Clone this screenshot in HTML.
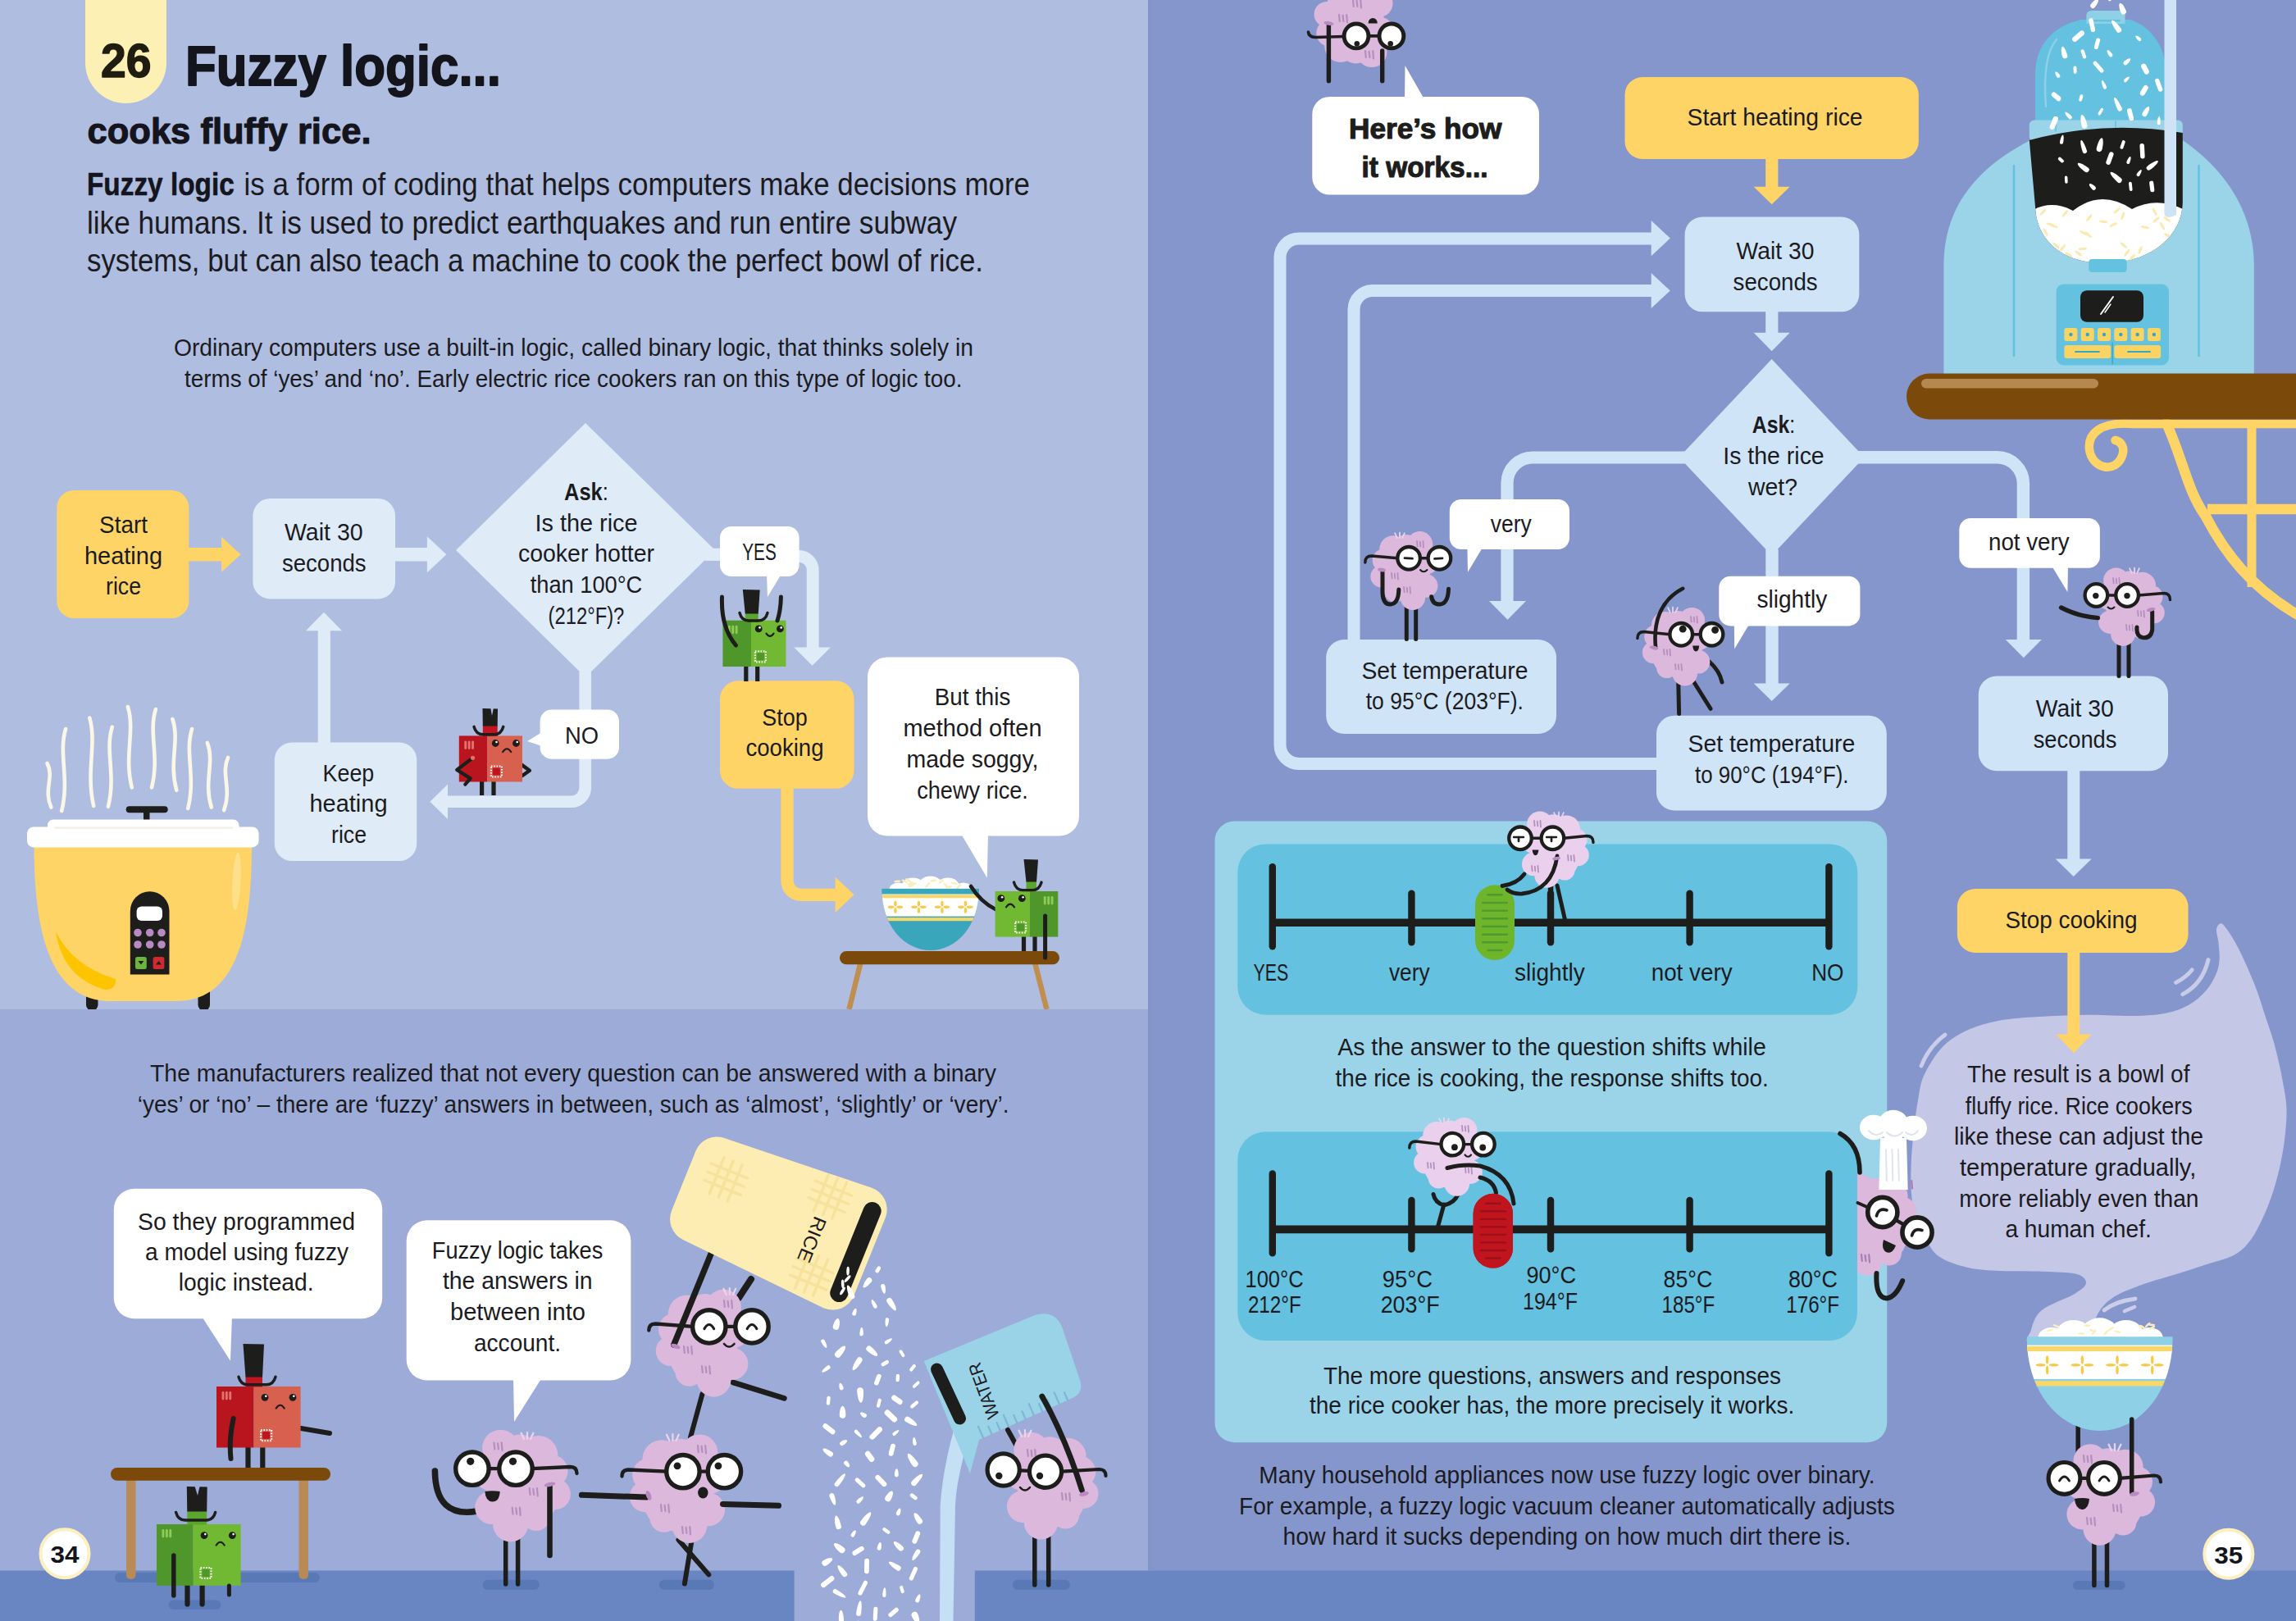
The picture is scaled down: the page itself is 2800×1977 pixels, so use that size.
<!DOCTYPE html><html><head><meta charset="utf-8"><title>Fuzzy logic cooks fluffy rice</title><style>html,body{margin:0;padding:0;background:#8496cd}svg{display:block}text{font-family:"Liberation Sans",sans-serif}</style></head><body><svg width="2800" height="1977" viewBox="0 0 2800 1977">
<rect x="0.0" y="0.0" width="1400.0" height="1232.0" rx="0" fill="#afbde0"/>
<rect x="0.0" y="1231.0" width="1400.0" height="746.0" rx="0" fill="#9cabd8"/>
<rect x="1400.0" y="0.0" width="1400.0" height="1977.0" rx="0" fill="#8596cc"/>
<rect x="0.0" y="1915.5" width="968.6" height="62.0" rx="0" fill="#6a86c2"/>
<rect x="1188.8" y="1915.5" width="1611.2" height="62.0" rx="0" fill="#6a86c2"/>
<path d="M104,0 H203 V76.5 A49.5,49.5 0 0 1 104,76.5 Z" fill="#fdf0b5"/>
<text x="123.0" y="94.0" font-size="57" font-weight="bold" textLength="61.5" lengthAdjust="spacingAndGlyphs" fill="#1f1c10" stroke="#1f1c10" stroke-width="1.4" stroke-linejoin="round">26</text>
<text x="226.0" y="104.0" font-size="68" font-weight="bold" textLength="385.0" lengthAdjust="spacingAndGlyphs" fill="#14141c" stroke="#14141c" stroke-width="1.8" stroke-linejoin="round">Fuzzy logic...</text>
<text x="106.5" y="175.0" font-size="45" font-weight="bold" textLength="346.0" lengthAdjust="spacingAndGlyphs" fill="#14141c" stroke="#14141c" stroke-width="1.1" stroke-linejoin="round">cooks fluffy rice.</text>
<text x="106.0" y="238.0" font-size="39" font-weight="bold" textLength="179.7" lengthAdjust="spacingAndGlyphs" fill="#14141c" stroke="#14141c" stroke-width="0.6" stroke-linejoin="round">Fuzzy logic</text>
<text x="297.6" y="238.0" font-size="39" textLength="958.4" lengthAdjust="spacingAndGlyphs" fill="#1b1b1f">is a form of coding that helps computers make decisions more</text>
<text x="106.0" y="285.0" font-size="39" textLength="1061.0" lengthAdjust="spacingAndGlyphs" fill="#1b1b1f">like humans. It is used to predict earthquakes and run entire subway</text>
<text x="106.0" y="331.0" font-size="39" textLength="1093.0" lengthAdjust="spacingAndGlyphs" fill="#1b1b1f">systems, but can also teach a machine to cook the perfect bowl of rice.</text>
<text x="212.0" y="434.0" font-size="29" textLength="975.0" lengthAdjust="spacingAndGlyphs" fill="#1b1b1f">Ordinary computers use a built-in logic, called binary logic, that thinks solely in</text>
<text x="225.0" y="471.6" font-size="29" textLength="948.5" lengthAdjust="spacingAndGlyphs" fill="#1b1b1f">terms of ‘yes’ and ‘no’. Early electric rice cookers ran on this type of logic too.</text>
<path d="M225,676.3 H272" fill="none" stroke="#ffd466" stroke-width="16.5" stroke-linecap="butt" stroke-linejoin="round"/>
<polygon points="270.1,654.8 293.6,676.3 270.1,697.8" fill="#ffd466"/>
<path d="M478,676.3 H523" fill="none" stroke="#dfecf8" stroke-width="16.5" stroke-linecap="butt" stroke-linejoin="round"/>
<polygon points="520.9,654.3 544.4,676.3 520.9,698.3" fill="#dfecf8"/>
<path d="M395.3,910 V768" fill="none" stroke="#dfecf8" stroke-width="15.2" stroke-linecap="butt" stroke-linejoin="round"/>
<polygon points="373.0,769.3 395.0,746.8 417.0,769.3" fill="#dfecf8"/>
<path d="M860,676.3 H885" fill="none" stroke="#dfecf8" stroke-width="15.2" stroke-linecap="butt" stroke-linejoin="round"/>
<path d="M960,678.4 H974.2 A17,17 0 0 1 991.2,695.4 V790.4" fill="none" stroke="#dfecf8" stroke-width="14.8" stroke-linecap="butt" stroke-linejoin="round"/>
<polygon points="968.3,789.4 990.6,811.8 1012.9,789.4" fill="#dfecf8"/>
<path d="M713.7,815 V960.8 A17,17 0 0 1 696.7,977.8 H545" fill="none" stroke="#dfecf8" stroke-width="14.6" stroke-linecap="butt" stroke-linejoin="round"/>
<polygon points="546.0,956.6 524.4,977.8 546.0,999.0" fill="#dfecf8"/>
<path d="M960,955 V1074.3 A17,17 0 0 0 977,1091.3 H1020" fill="none" stroke="#ffd466" stroke-width="15.3" stroke-linecap="butt" stroke-linejoin="round"/>
<polygon points="1018.6,1069.6 1041.6,1091.3 1018.6,1113.0" fill="#ffd466"/>
<polygon points="714.0,516.0 872.0,671.0 714.0,826.0 556.0,671.0" fill="#dfecf8"/>
<rect x="69.3" y="598.0" width="161.0" height="156.0" rx="21" fill="#ffd466"/>
<rect x="308.4" y="608.0" width="173.6" height="122.4" rx="21" fill="#dfecf8"/>
<rect x="334.8" y="905.6" width="173.4" height="144.4" rx="21" fill="#dfecf8"/>
<rect x="878.0" y="830.3" width="163.5" height="131.5" rx="22" fill="#ffd466"/>
<rect x="878.0" y="642.0" width="96.6" height="61.0" rx="14" fill="#fff"/>
<polygon points="935.0,700.0 953.0,700.0 936.0,728.0" fill="#fff"/>
<rect x="658.6" y="865.6" width="96.4" height="60.1" rx="14" fill="#fff"/>
<polygon points="661.0,893.0 661.0,910.0 643.0,904.0" fill="#fff"/>
<rect x="1058.0" y="801.4" width="258.0" height="218.2" rx="24" fill="#fff"/>
<polygon points="1172.0,1017.0 1205.0,1017.0 1203.8,1070.7" fill="#fff"/>
<text x="121.0" y="650.0" font-size="29" textLength="59.0" lengthAdjust="spacingAndGlyphs" fill="#1b1b1f">Start</text>
<text x="103.0" y="687.6" font-size="29" textLength="95.0" lengthAdjust="spacingAndGlyphs" fill="#1b1b1f">heating</text>
<text x="129.0" y="724.6" font-size="29" textLength="43.0" lengthAdjust="spacingAndGlyphs" fill="#1b1b1f">rice</text>
<text x="347.0" y="659.0" font-size="29" textLength="95.6" lengthAdjust="spacingAndGlyphs" fill="#1b1b1f">Wait 30</text>
<text x="343.9" y="696.5" font-size="29" textLength="102.7" lengthAdjust="spacingAndGlyphs" fill="#1b1b1f">seconds</text>
<text x="688.1" y="609.5" font-size="29" textLength="53.7" lengthAdjust="spacingAndGlyphs" fill="#1b1b1f"><tspan font-weight="bold">Ask</tspan>:</text>
<text x="652.5" y="647.5" font-size="29" textLength="125.0" lengthAdjust="spacingAndGlyphs" fill="#1b1b1f">Is the rice</text>
<text x="632.0" y="685.0" font-size="29" textLength="166.0" lengthAdjust="spacingAndGlyphs" fill="#1b1b1f">cooker hotter</text>
<text x="646.7" y="722.7" font-size="29" textLength="136.6" lengthAdjust="spacingAndGlyphs" fill="#1b1b1f">than 100°C</text>
<text x="668.6" y="760.7" font-size="29" textLength="92.7" lengthAdjust="spacingAndGlyphs" fill="#1b1b1f">(212°F)?</text>
<text x="905.2" y="683.0" font-size="29" textLength="41.6" lengthAdjust="spacingAndGlyphs" fill="#1b1b1f">YES</text>
<text x="689.0" y="906.5" font-size="29" textLength="41.0" lengthAdjust="spacingAndGlyphs" fill="#1b1b1f">NO</text>
<text x="393.6" y="953.2" font-size="29" textLength="62.7" lengthAdjust="spacingAndGlyphs" fill="#1b1b1f">Keep</text>
<text x="377.5" y="990.3" font-size="29" textLength="95.0" lengthAdjust="spacingAndGlyphs" fill="#1b1b1f">heating</text>
<text x="404.0" y="1027.9" font-size="29" textLength="43.0" lengthAdjust="spacingAndGlyphs" fill="#1b1b1f">rice</text>
<text x="929.2" y="885.0" font-size="29" textLength="55.5" lengthAdjust="spacingAndGlyphs" fill="#1b1b1f">Stop</text>
<text x="909.5" y="922.0" font-size="29" textLength="95.0" lengthAdjust="spacingAndGlyphs" fill="#1b1b1f">cooking</text>
<text x="1139.8" y="860.3" font-size="29" textLength="92.5" lengthAdjust="spacingAndGlyphs" fill="#1b1b1f">But this</text>
<text x="1101.5" y="898.0" font-size="29" textLength="169.0" lengthAdjust="spacingAndGlyphs" fill="#1b1b1f">method often</text>
<text x="1105.5" y="936.0" font-size="29" textLength="161.0" lengthAdjust="spacingAndGlyphs" fill="#1b1b1f">made soggy,</text>
<text x="1118.2" y="973.5" font-size="29" textLength="135.7" lengthAdjust="spacingAndGlyphs" fill="#1b1b1f">chewy rice.</text>
<path d="M57.5,931.0 C66.6,947.1 52.6,963.2 62.4,984.6" fill="none" stroke="#fbf7e6" stroke-width="4.6" stroke-linecap="round" stroke-linejoin="round"/>
<path d="M80.1,889.0 C71.0,919.0 85.0,949.0 75.2,989.0" fill="none" stroke="#fbf7e6" stroke-width="4.6" stroke-linecap="round" stroke-linejoin="round"/>
<path d="M109.3,875.5 C118.4,907.8 104.4,940.0 114.2,983.0" fill="none" stroke="#fbf7e6" stroke-width="4.6" stroke-linecap="round" stroke-linejoin="round"/>
<path d="M136.8,886.6 C127.7,915.8 141.7,944.9 131.9,983.8" fill="none" stroke="#fbf7e6" stroke-width="4.6" stroke-linecap="round" stroke-linejoin="round"/>
<path d="M155.9,862.0 C165.0,891.5 151.0,921.1 160.8,960.5" fill="none" stroke="#fbf7e6" stroke-width="4.6" stroke-linecap="round" stroke-linejoin="round"/>
<path d="M189.9,865.0 C180.8,893.6 194.8,922.3 185.0,960.5" fill="none" stroke="#fbf7e6" stroke-width="4.6" stroke-linecap="round" stroke-linejoin="round"/>
<path d="M210.4,877.0 C219.5,903.0 205.5,929.1 215.3,963.8" fill="none" stroke="#fbf7e6" stroke-width="4.6" stroke-linecap="round" stroke-linejoin="round"/>
<path d="M234.1,889.0 C225.0,918.1 239.0,947.2 229.2,986.0" fill="none" stroke="#fbf7e6" stroke-width="4.6" stroke-linecap="round" stroke-linejoin="round"/>
<path d="M252.9,906.0 C262.0,929.6 248.0,953.2 257.8,984.6" fill="none" stroke="#fbf7e6" stroke-width="4.6" stroke-linecap="round" stroke-linejoin="round"/>
<path d="M278.1,924.0 C269.0,943.2 283.0,962.4 273.2,988.0" fill="none" stroke="#fbf7e6" stroke-width="4.6" stroke-linecap="round" stroke-linejoin="round"/>
<rect x="153.7" y="983.3" width="51.0" height="8.0" rx="4" fill="#1d1d1b"/>
<rect x="175.0" y="988.0" width="7.5" height="13.0" rx="0" fill="#1d1d1b"/>
<rect x="105.0" y="1190.0" width="14.5" height="42.5" rx="7" fill="#1d1d1b"/>
<rect x="241.5" y="1190.0" width="14.5" height="42.5" rx="7" fill="#1d1d1b"/>
<path d="M41.5,1030 H307 C307,1130 292,1221 215,1221 H135 C58,1221 41.5,1130 41.5,1030 Z" fill="#ffd466"/>
<rect x="58.0" y="999.4" width="233.5" height="16.0" rx="7" fill="#fff"/>
<rect x="33.0" y="1008.4" width="282.6" height="25.0" rx="8" fill="#fff"/>
<rect x="66.0" y="1008.6" width="218.0" height="2.2" rx="1" fill="#f3efe2"/>
<path d="M68,1136 Q88,1178 141,1194 Q142,1207 128,1207 Q76,1192 68,1136 Z" fill="#fdc400"/>
<ellipse cx="288.5" cy="1075.0" rx="5.0" ry="35.0" fill="#ffe08a" transform="rotate(3 288.5 1075.0)"/>
<path d="M158.8,1188.5 V1111 A23.85,23.85 0 0 1 206.5,1111 V1188.5 Z" fill="#1d1d1b"/>
<rect x="166.6" y="1105.6" width="31.4" height="17.4" rx="6" fill="#fff"/>
<circle cx="168.0" cy="1137.5" r="4.8" fill="#b98ac2"/>
<circle cx="182.7" cy="1137.5" r="4.8" fill="#b98ac2"/>
<circle cx="197.0" cy="1137.5" r="4.8" fill="#b98ac2"/>
<circle cx="168.0" cy="1152.0" r="4.8" fill="#b98ac2"/>
<circle cx="182.7" cy="1152.0" r="4.8" fill="#b98ac2"/>
<circle cx="197.0" cy="1152.0" r="4.8" fill="#b98ac2"/>
<rect x="165.0" y="1167.0" width="13.8" height="15.0" rx="2.5" fill="#6db33f"/>
<rect x="186.6" y="1167.0" width="13.8" height="15.0" rx="2.5" fill="#cf2a30"/>
<polygon points="168.5,1172.0 175.3,1172.0 171.9,1176.5" fill="#1d1d1b"/>
<polygon points="190.0,1176.5 197.0,1176.5 193.5,1172.0" fill="#1d1d1b"/>
<path d="M636,932.6 L645.9,939.8 L637,946" fill="none" stroke="#1d1d1b" stroke-width="4.4" stroke-linecap="round" stroke-linejoin="round"/>
<line x1="587.6" y1="953.0" x2="587.6" y2="970.0" stroke="#1d1d1b" stroke-width="5.2" stroke-linecap="butt"/>
<line x1="602.0" y1="953.0" x2="602.0" y2="970.0" stroke="#1d1d1b" stroke-width="5.2" stroke-linecap="butt"/>
<rect x="559.8" y="897.4" width="34.6" height="56.1" rx="0" fill="#b8151f"/>
<rect x="594.4" y="897.4" width="42.6" height="56.1" rx="0" fill="#d8604f"/>
<rect x="566.3" y="903.4" width="2.9" height="10.5" rx="1.45" fill="#e0726f"/>
<rect x="570.7" y="903.4" width="2.9" height="10.5" rx="1.45" fill="#e0726f"/>
<rect x="575.1" y="903.4" width="2.9" height="10.5" rx="1.45" fill="#e0726f"/>
<circle cx="604.2" cy="906.5" r="4.4" fill="#1d1d1b"/>
<circle cx="605.5" cy="905.0" r="1.3" fill="#fff"/>
<circle cx="629.4" cy="906.5" r="4.4" fill="#1d1d1b"/>
<circle cx="630.7" cy="905.0" r="1.3" fill="#fff"/>
<path d="M613.2,917.0 Q618.2,909.5 623.2,917.0" fill="none" stroke="#1d1d1b" stroke-width="2.2" stroke-linecap="round" stroke-linejoin="round"/>
<rect x="600.9" y="936.5" width="9.0" height="9.0" rx="1" fill="#c0151f"/>
<rect x="598.9" y="934.5" width="13.0" height="13.0" fill="none" stroke="#fff" stroke-width="2.2" stroke-dasharray="1.6 1.7"/>
<polygon points="588.5,864.0 607.0,864.5 606.7,886.0 588.8,886.0" fill="#1d1d1b"/>
<rect x="588.8" y="885.5" width="17.9" height="12.4" rx="0" fill="#c0151f"/>
<path d="M578.0,886.3 Q580.5,895.8 589.0,895.8 H602.8 Q611.3,895.8 613.8,886.3" fill="none" stroke="#1d1d1b" stroke-width="3.4" stroke-linecap="round" stroke-linejoin="round"/>
<path d="M576.1,924.6 L557.2,939 L573.7,949.4 L567.3,956.7" fill="none" stroke="#1d1d1b" stroke-width="4.2" stroke-linecap="round" stroke-linejoin="round"/>
<circle cx="576.5" cy="924.3" r="2.6" fill="#e5706a"/>
<polygon points="598.0,862.0 602.2,862.0 600.0,873.0" fill="#afbde0"/>
<line x1="909.8" y1="812.0" x2="909.8" y2="831.0" stroke="#1d1d1b" stroke-width="5.2" stroke-linecap="butt"/>
<line x1="923.7" y1="812.0" x2="923.7" y2="831.0" stroke="#1d1d1b" stroke-width="5.2" stroke-linecap="butt"/>
<rect x="881.4" y="756.7" width="34.6" height="56.3" rx="0" fill="#4f962b"/>
<rect x="916.0" y="756.7" width="42.5" height="56.3" rx="0" fill="#72b933"/>
<rect x="887.9" y="762.7" width="2.9" height="10.5" rx="1.45" fill="#8fcb58"/>
<rect x="892.3" y="762.7" width="2.9" height="10.5" rx="1.45" fill="#8fcb58"/>
<rect x="896.7" y="762.7" width="2.9" height="10.5" rx="1.45" fill="#8fcb58"/>
<circle cx="925.2" cy="766.9" r="4.4" fill="#1d1d1b"/>
<circle cx="926.5" cy="765.4" r="1.3" fill="#fff"/>
<circle cx="951.4" cy="766.9" r="4.4" fill="#1d1d1b"/>
<circle cx="952.7" cy="765.4" r="1.3" fill="#fff"/>
<path d="M934.5,772.6 Q939.0,779.1 943.5,772.6" fill="none" stroke="#1d1d1b" stroke-width="2.2" stroke-linecap="round" stroke-linejoin="round"/>
<rect x="922.9" y="796.3" width="9.0" height="9.0" rx="1" fill="#4f962b"/>
<rect x="920.9" y="794.3" width="13.0" height="13.0" fill="none" stroke="#fff" stroke-width="2.2" stroke-dasharray="1.6 1.7"/>
<polygon points="905.8,719.0 926.7,719.5 924.7,749.0 908.8,749.0" fill="#1d1d1b"/>
<rect x="908.8" y="748.5" width="15.9" height="8.7" rx="0" fill="#5aa52e"/>
<path d="M902.0,747.5 Q904.5,757.0 913.0,757.0 H925.0 Q933.5,757.0 936.0,747.5" fill="none" stroke="#1d1d1b" stroke-width="3.4" stroke-linecap="round" stroke-linejoin="round"/>
<path d="M880.5,728 Q879,765 897.4,787" fill="none" stroke="#1d1d1b" stroke-width="5" stroke-linecap="round" stroke-linejoin="round"/>
<path d="M952.4,728 Q952,745 948,757" fill="none" stroke="#1d1d1b" stroke-width="5" stroke-linecap="round" stroke-linejoin="round"/>
<ellipse cx="1095.5" cy="1085.3" rx="11.1" ry="8.9" fill="#fff"/>
<ellipse cx="1113.3" cy="1081.7" rx="14.1" ry="11.3" fill="#fff"/>
<ellipse cx="1134.7" cy="1080.5" rx="14.8" ry="11.9" fill="#fff"/>
<ellipse cx="1156.0" cy="1081.7" rx="14.1" ry="11.3" fill="#fff"/>
<ellipse cx="1175.0" cy="1085.3" rx="11.1" ry="8.9" fill="#fff"/>
<ellipse cx="1134.7" cy="1087.1" rx="17.8" ry="14.2" fill="#fff"/>
<ellipse cx="1103.4" cy="1074.8" rx="4.2" ry="1.3" fill="#fbeebc" transform="rotate(26 1103.4 1074.8)"/>
<ellipse cx="1113.7" cy="1077.7" rx="4.2" ry="1.3" fill="#fbeebc" transform="rotate(-5 1113.7 1077.7)"/>
<ellipse cx="1147.6" cy="1075.3" rx="4.2" ry="1.3" fill="#fbeebc" transform="rotate(-41 1147.6 1075.3)"/>
<ellipse cx="1094.3" cy="1074.9" rx="4.2" ry="1.3" fill="#fbeebc" transform="rotate(-7 1094.3 1074.9)"/>
<ellipse cx="1157.1" cy="1081.7" rx="4.2" ry="1.3" fill="#fbeebc" transform="rotate(-5 1157.1 1081.7)"/>
<ellipse cx="1153.6" cy="1079.8" rx="4.2" ry="1.3" fill="#fbeebc" transform="rotate(45 1153.6 1079.8)"/>
<ellipse cx="1169.0" cy="1081.5" rx="4.2" ry="1.3" fill="#fbeebc" transform="rotate(-47 1169.0 1081.5)"/>
<ellipse cx="1138.2" cy="1074.1" rx="4.2" ry="1.3" fill="#fbeebc" transform="rotate(-12 1138.2 1074.1)"/>
<ellipse cx="1110.4" cy="1078.3" rx="4.2" ry="1.3" fill="#fbeebc" transform="rotate(-47 1110.4 1078.3)"/>
<ellipse cx="1110.9" cy="1078.2" rx="4.2" ry="1.3" fill="#fbeebc" transform="rotate(-0 1110.9 1078.2)"/>
<ellipse cx="1111.8" cy="1079.8" rx="4.2" ry="1.3" fill="#fbeebc" transform="rotate(-28 1111.8 1079.8)"/>
<ellipse cx="1131.2" cy="1079.4" rx="4.2" ry="1.3" fill="#fbeebc" transform="rotate(-48 1131.2 1079.4)"/>
<ellipse cx="1163.5" cy="1077.2" rx="4.2" ry="1.3" fill="#fbeebc" transform="rotate(14 1163.5 1077.2)"/>
<ellipse cx="1107.8" cy="1073.7" rx="4.2" ry="1.3" fill="#fbeebc" transform="rotate(36 1107.8 1073.7)"/>
<clipPath id="bw1"><path d="M1075.3,1083.7 H1194.0 C1194.0,1130.4 1165.5,1159.0 1134.7,1159.0 C1103.8,1159.0 1075.3,1130.4 1075.3,1083.7Z"/></clipPath>
<g clip-path="url(#bw1)">
<rect x="1075.3" y="1083.7" width="118.7" height="75.3" rx="0" fill="#3aa6bc"/>
<rect x="1075.3" y="1083.7" width="118.7" height="6.8" rx="0" fill="#3aa6bc"/>
<rect x="1075.3" y="1090.5" width="118.7" height="27.1" rx="0" fill="#fff"/>
<rect x="1075.3" y="1091.2" width="118.7" height="4.1" rx="0" fill="#f7d768"/>
<rect x="1075.3" y="1119.1" width="118.7" height="4.1" rx="0" fill="#f7d768"/>
<ellipse cx="1091.9" cy="1102.1" rx="1.7" ry="3.4" fill="#f7c948"/>
<ellipse cx="1091.9" cy="1110.4" rx="1.7" ry="3.4" fill="#f7c948"/>
<ellipse cx="1086.6" cy="1106.3" rx="3.9" ry="1.7" fill="#f7c948"/>
<ellipse cx="1097.3" cy="1106.3" rx="3.9" ry="1.7" fill="#f7c948"/>
<ellipse cx="1120.4" cy="1102.1" rx="1.7" ry="3.4" fill="#f7c948"/>
<ellipse cx="1120.4" cy="1110.4" rx="1.7" ry="3.4" fill="#f7c948"/>
<ellipse cx="1115.1" cy="1106.3" rx="3.9" ry="1.7" fill="#f7c948"/>
<ellipse cx="1125.7" cy="1106.3" rx="3.9" ry="1.7" fill="#f7c948"/>
<ellipse cx="1148.9" cy="1102.1" rx="1.7" ry="3.4" fill="#f7c948"/>
<ellipse cx="1148.9" cy="1110.4" rx="1.7" ry="3.4" fill="#f7c948"/>
<ellipse cx="1143.6" cy="1106.3" rx="3.9" ry="1.7" fill="#f7c948"/>
<ellipse cx="1154.2" cy="1106.3" rx="3.9" ry="1.7" fill="#f7c948"/>
<ellipse cx="1177.4" cy="1102.1" rx="1.7" ry="3.4" fill="#f7c948"/>
<ellipse cx="1177.4" cy="1110.4" rx="1.7" ry="3.4" fill="#f7c948"/>
<ellipse cx="1172.0" cy="1106.3" rx="3.9" ry="1.7" fill="#f7c948"/>
<ellipse cx="1182.7" cy="1106.3" rx="3.9" ry="1.7" fill="#f7c948"/>
</g>
<line x1="1050.0" y1="1172.0" x2="1035.5" y2="1231.0" stroke="#c08f4f" stroke-width="6.5" stroke-linecap="butt"/>
<line x1="1261.5" y1="1172.0" x2="1276.5" y2="1231.0" stroke="#c08f4f" stroke-width="6.5" stroke-linecap="butt"/>
<rect x="1024.0" y="1160.0" width="268.0" height="16.3" rx="8.2" fill="#7b4a0a"/>
<rect x="0.0" y="1231.0" width="1400.0" height="3.0" rx="0" fill="#9cabd8"/>
<line x1="1248.5" y1="1142.0" x2="1248.5" y2="1160.0" stroke="#1d1d1b" stroke-width="5.2" stroke-linecap="butt"/>
<line x1="1262.0" y1="1142.0" x2="1262.0" y2="1160.0" stroke="#1d1d1b" stroke-width="5.2" stroke-linecap="butt"/>
<path d="M1214,1109 Q1196,1100 1184,1081" fill="none" stroke="#1d1d1b" stroke-width="4.6" stroke-linecap="round" stroke-linejoin="round"/>
<rect x="1213.6" y="1087.0" width="42.4" height="55.6" rx="0" fill="#72b933"/>
<rect x="1256.0" y="1087.0" width="34.3" height="55.6" rx="0" fill="#4f962b"/>
<rect x="1272.8" y="1093.0" width="2.9" height="10.5" rx="1.45" fill="#8fcb58"/>
<rect x="1277.2" y="1093.0" width="2.9" height="10.5" rx="1.45" fill="#8fcb58"/>
<rect x="1281.6" y="1093.0" width="2.9" height="10.5" rx="1.45" fill="#8fcb58"/>
<circle cx="1220.8" cy="1095.7" r="4.4" fill="#1d1d1b"/>
<circle cx="1222.1" cy="1094.2" r="1.3" fill="#fff"/>
<circle cx="1246.3" cy="1095.7" r="4.4" fill="#1d1d1b"/>
<circle cx="1247.6" cy="1094.2" r="1.3" fill="#fff"/>
<path d="M1227.0,1106.3 Q1232.0,1098.8 1237.0,1106.3" fill="none" stroke="#1d1d1b" stroke-width="2.2" stroke-linecap="round" stroke-linejoin="round"/>
<rect x="1240.1" y="1126.5" width="9.0" height="9.0" rx="1" fill="#4f962b"/>
<rect x="1238.1" y="1124.5" width="13.0" height="13.0" fill="none" stroke="#fff" stroke-width="2.2" stroke-dasharray="1.6 1.7"/>
<polygon points="1248.5,1048.0 1266.0,1048.5 1264.0,1076.0 1251.5,1076.0" fill="#1d1d1b"/>
<rect x="1251.5" y="1075.5" width="12.5" height="12.0" rx="0" fill="#5aa52e"/>
<path d="M1236.5,1076.1 Q1239.0,1085.6 1247.5,1085.6 H1259.0 Q1267.5,1085.6 1270.0,1076.1" fill="none" stroke="#1d1d1b" stroke-width="3.4" stroke-linecap="round" stroke-linejoin="round"/>
<line x1="1274.6" y1="1117.0" x2="1274.6" y2="1168.0" stroke="#1d1d1b" stroke-width="5" stroke-linecap="round"/>
<text x="183.0" y="1319.4" font-size="29" textLength="1032.0" lengthAdjust="spacingAndGlyphs" fill="#1b1b1f">The manufacturers realized that not every question can be answered with a binary</text>
<text x="167.7" y="1357.0" font-size="29" textLength="1062.9" lengthAdjust="spacingAndGlyphs" fill="#1b1b1f">‘yes’ or ‘no’ – there are ‘fuzzy’ answers in between, such as ‘almost’, ‘slightly’ or ‘very’.</text>
<rect x="138.8" y="1449.8" width="327.4" height="158.4" rx="25" fill="#fff"/>
<polygon points="245.6,1605.0 283.0,1605.0 281.0,1659.8" fill="#fff"/>
<text x="168.0" y="1499.6" font-size="29" textLength="265.0" lengthAdjust="spacingAndGlyphs" fill="#1b1b1f">So they programmed</text>
<text x="177.0" y="1537.0" font-size="29" textLength="248.0" lengthAdjust="spacingAndGlyphs" fill="#1b1b1f">a model using fuzzy</text>
<text x="217.8" y="1574.4" font-size="29" textLength="164.8" lengthAdjust="spacingAndGlyphs" fill="#1b1b1f">logic instead.</text>
<rect x="495.7" y="1488.3" width="273.7" height="195.2" rx="25" fill="#fff"/>
<polygon points="626.0,1680.0 661.0,1680.0 627.0,1734.0" fill="#fff"/>
<text x="526.8" y="1534.7" font-size="29" textLength="208.5" lengthAdjust="spacingAndGlyphs" fill="#1b1b1f">Fuzzy logic takes</text>
<text x="540.0" y="1572.0" font-size="29" textLength="182.6" lengthAdjust="spacingAndGlyphs" fill="#1b1b1f">the answers in</text>
<text x="549.0" y="1609.6" font-size="29" textLength="165.0" lengthAdjust="spacingAndGlyphs" fill="#1b1b1f">between into</text>
<text x="578.0" y="1647.8" font-size="29" textLength="106.0" lengthAdjust="spacingAndGlyphs" fill="#1b1b1f">account.</text>
<circle cx="79.0" cy="1894.7" r="29.5" fill="#fff" stroke="#fdf0c0" stroke-width="4"/>
<text x="61.5" y="1906.0" font-size="29" font-weight="bold" textLength="35.0" lengthAdjust="spacingAndGlyphs" fill="#14141c">34</text>
<rect x="140.0" y="1918.0" width="250.0" height="12.0" rx="6.0" fill="#5878b6"/>
<rect x="154.0" y="1800.0" width="11.5" height="126.0" rx="5" fill="#b98a55"/>
<rect x="364.5" y="1800.0" width="11.5" height="126.0" rx="5" fill="#b98a55"/>
<rect x="135.0" y="1790.0" width="268.0" height="15.8" rx="7.9" fill="#7b4a0a"/>
<line x1="302.5" y1="1765.0" x2="302.5" y2="1790.0" stroke="#1d1d1b" stroke-width="6.2" stroke-linecap="butt"/>
<line x1="320.3" y1="1765.0" x2="320.3" y2="1790.0" stroke="#1d1d1b" stroke-width="6.2" stroke-linecap="butt"/>
<line x1="367.0" y1="1742.0" x2="402.0" y2="1748.0" stroke="#1d1d1b" stroke-width="6" stroke-linecap="round"/>
<rect x="264.0" y="1691.0" width="45.6" height="74.5" rx="0" fill="#b8151f"/>
<rect x="309.6" y="1691.0" width="57.0" height="74.5" rx="0" fill="#d8604f"/>
<rect x="270.5" y="1697.0" width="2.9" height="10.5" rx="1.45" fill="#e0726f"/>
<rect x="274.9" y="1697.0" width="2.9" height="10.5" rx="1.45" fill="#e0726f"/>
<rect x="279.3" y="1697.0" width="2.9" height="10.5" rx="1.45" fill="#e0726f"/>
<circle cx="323.0" cy="1704.3" r="4.4" fill="#1d1d1b"/>
<circle cx="324.3" cy="1702.8" r="1.3" fill="#fff"/>
<circle cx="357.0" cy="1704.3" r="4.4" fill="#1d1d1b"/>
<circle cx="358.3" cy="1702.8" r="1.3" fill="#fff"/>
<path d="M336.7,1717.5 Q341.7,1710.0 346.7,1717.5" fill="none" stroke="#1d1d1b" stroke-width="2.2" stroke-linecap="round" stroke-linejoin="round"/>
<rect x="320.1" y="1746.1" width="9.0" height="9.0" rx="1" fill="#c0151f"/>
<rect x="318.1" y="1744.1" width="13.0" height="13.0" fill="none" stroke="#fff" stroke-width="2.2" stroke-dasharray="1.6 1.7"/>
<polygon points="296.5,1639.0 322.0,1639.5 320.0,1680.0 299.5,1680.0" fill="#1d1d1b"/>
<rect x="299.5" y="1679.5" width="20.5" height="12.0" rx="0" fill="#c0151f"/>
<path d="M291.0,1679.2 Q293.5,1688.7 302.0,1688.7 H325.0 Q333.5,1688.7 336.0,1679.2" fill="none" stroke="#1d1d1b" stroke-width="3.4" stroke-linecap="round" stroke-linejoin="round"/>
<path d="M284.7,1730 Q279,1755 281.5,1779" fill="none" stroke="#1d1d1b" stroke-width="6" stroke-linecap="round" stroke-linejoin="round"/>
<rect x="205.7" y="1951.6" width="63.7" height="11.4" rx="5.7000000000000455" fill="#5878b6"/>
<line x1="228.5" y1="1933.0" x2="228.5" y2="1956.5" stroke="#1d1d1b" stroke-width="6.2" stroke-linecap="round"/>
<line x1="246.6" y1="1933.0" x2="246.6" y2="1956.5" stroke="#1d1d1b" stroke-width="6.2" stroke-linecap="round"/>
<rect x="191.0" y="1859.0" width="44.6" height="74.8" rx="0" fill="#4f962b"/>
<rect x="235.6" y="1859.0" width="58.0" height="74.8" rx="0" fill="#72b933"/>
<rect x="197.5" y="1865.0" width="2.9" height="10.5" rx="1.45" fill="#8fcb58"/>
<rect x="201.9" y="1865.0" width="2.9" height="10.5" rx="1.45" fill="#8fcb58"/>
<rect x="206.3" y="1865.0" width="2.9" height="10.5" rx="1.45" fill="#8fcb58"/>
<circle cx="249.0" cy="1872.6" r="4.4" fill="#1d1d1b"/>
<circle cx="250.3" cy="1871.1" r="1.3" fill="#fff"/>
<circle cx="283.3" cy="1872.6" r="4.4" fill="#1d1d1b"/>
<circle cx="284.6" cy="1871.1" r="1.3" fill="#fff"/>
<path d="M263.7,1884.5 Q268.7,1877.0 273.7,1884.5" fill="none" stroke="#1d1d1b" stroke-width="2.2" stroke-linecap="round" stroke-linejoin="round"/>
<rect x="246.5" y="1914.0" width="9.0" height="9.0" rx="1" fill="#4f962b"/>
<rect x="244.5" y="1912.0" width="13.0" height="13.0" fill="none" stroke="#fff" stroke-width="2.2" stroke-dasharray="1.6 1.7"/>
<polygon points="227.8,1813.0 252.7,1813.5 252.2,1844.0 228.3,1844.0" fill="#1d1d1b"/>
<rect x="228.3" y="1843.5" width="23.9" height="16.0" rx="0" fill="#5aa52e"/>
<path d="M214.6,1844.5 Q217.1,1854.0 225.6,1854.0 H251.6 Q260.1,1854.0 262.6,1844.5" fill="none" stroke="#1d1d1b" stroke-width="3.4" stroke-linecap="round" stroke-linejoin="round"/>
<polygon points="237.0,1811.0 244.0,1811.0 241.0,1824.0" fill="#9cabd8"/>
<line x1="211.8" y1="1897.0" x2="211.8" y2="1946.0" stroke="#1d1d1b" stroke-width="5.5" stroke-linecap="round"/>
<line x1="279.4" y1="1934.0" x2="279.4" y2="1945.0" stroke="#1d1d1b" stroke-width="5" stroke-linecap="round"/>
<rect x="588.6" y="1926.7" width="69.2" height="12.3" rx="6.149999999999977" fill="#5878b6"/>
<line x1="616.7" y1="1870.0" x2="616.7" y2="1932.0" stroke="#1d1d1b" stroke-width="5.5" stroke-linecap="round"/>
<line x1="631.6" y1="1870.0" x2="631.6" y2="1932.0" stroke="#1d1d1b" stroke-width="5.5" stroke-linecap="round"/>
<path d="M582,1843 Q531,1852 530.4,1794" fill="none" stroke="#1d1d1b" stroke-width="7.6" stroke-linecap="round" stroke-linejoin="round"/>
<circle cx="610.4" cy="1766.1" r="22.3" fill="#dcb8dd"/>
<circle cx="656.6" cy="1774.8" r="23.8" fill="#dcb8dd"/>
<circle cx="676.9" cy="1822.2" r="19.0" fill="#dcb8dd"/>
<circle cx="653.8" cy="1849.4" r="17.6" fill="#dcb8dd"/>
<circle cx="622.6" cy="1858.8" r="21.6" fill="#dcb8dd"/>
<circle cx="599.6" cy="1838.6" r="20.4" fill="#dcb8dd"/>
<circle cx="632.0" cy="1811.4" r="39.8" fill="#dcb8dd"/>
<circle cx="598.0" cy="1798.0" r="19.9" fill="#dcb8dd"/>
<circle cx="672.6" cy="1794.2" r="19.9" fill="#dcb8dd"/>
<circle cx="634.0" cy="1772.8" r="23.4" fill="#dcb8dd"/>
<circle cx="643.4" cy="1829.1" r="35.1" fill="#dcb8dd"/>
<line x1="639.0" y1="1755.0" x2="635.6" y2="1747.7" stroke="#ecd4ec" stroke-width="2.2" stroke-linecap="round"/>
<line x1="643.0" y1="1755.0" x2="643.0" y2="1747.0" stroke="#ecd4ec" stroke-width="2.2" stroke-linecap="round"/>
<line x1="647.0" y1="1755.0" x2="650.4" y2="1747.7" stroke="#ecd4ec" stroke-width="2.2" stroke-linecap="round"/>
<line x1="602.5" y1="1759.5" x2="603.3" y2="1767.5" stroke="#b48fbd" stroke-width="2.2" stroke-linecap="round"/>
<line x1="607.1" y1="1760.3" x2="607.9" y2="1767.5" stroke="#b48fbd" stroke-width="2.2" stroke-linecap="round"/>
<line x1="611.7" y1="1759.5" x2="612.5" y2="1769.0" stroke="#b48fbd" stroke-width="2.2" stroke-linecap="round"/>
<line x1="645.7" y1="1815.0" x2="646.5" y2="1823.0" stroke="#b48fbd" stroke-width="2.2" stroke-linecap="round"/>
<line x1="650.3" y1="1815.8" x2="651.1" y2="1823.0" stroke="#b48fbd" stroke-width="2.2" stroke-linecap="round"/>
<line x1="654.9" y1="1815.0" x2="655.7" y2="1824.5" stroke="#b48fbd" stroke-width="2.2" stroke-linecap="round"/>
<line x1="624.7" y1="1838.6" x2="625.5" y2="1846.6" stroke="#b48fbd" stroke-width="2.2" stroke-linecap="round"/>
<line x1="629.3" y1="1839.4" x2="630.1" y2="1846.6" stroke="#b48fbd" stroke-width="2.2" stroke-linecap="round"/>
<line x1="633.9" y1="1838.6" x2="634.7" y2="1848.1" stroke="#b48fbd" stroke-width="2.2" stroke-linecap="round"/>
<line x1="596.1" y1="1791.2" x2="608.8" y2="1791.2" stroke="#1d1d1b" stroke-width="4.32" stroke-linecap="round"/>
<circle cx="575.9" cy="1791.2" r="20.2" fill="#fff" stroke="#1d1d1b" stroke-width="5.4"/>
<circle cx="629.0" cy="1791.2" r="20.2" fill="#fff" stroke="#1d1d1b" stroke-width="5.4"/>
<path d="M649.2,1791.2 L695.5,1789.0 Q703.5,1789.0 703.5,1797.0" fill="none" stroke="#1d1d1b" stroke-width="4.32" stroke-linecap="round" stroke-linejoin="round"/>
<circle cx="573.7" cy="1782.3" r="4.6" fill="#1d1d1b"/>
<circle cx="625.5" cy="1782.3" r="4.6" fill="#1d1d1b"/>
<path d="M591.4,1819 Q600.5,1817.6 609.7,1819 Q609,1831.5 600.5,1831.5 Q592,1831 591.4,1819Z" fill="#1d1d1b"/>
<line x1="670.5" y1="1812.0" x2="670.5" y2="1897.0" stroke="#1d1d1b" stroke-width="6.6" stroke-linecap="round"/>
<ellipse cx="670.5" cy="1810.5" rx="7.0" ry="2.6" fill="#b98ac2" transform="rotate(-12 670.5 1810.5)"/>
<rect x="803.9" y="1926.7" width="67.1" height="12.3" rx="6.149999999999977" fill="#5878b6"/>
<line x1="827.4" y1="1878.0" x2="864.3" y2="1920.4" stroke="#1d1d1b" stroke-width="6" stroke-linecap="round"/>
<line x1="843.5" y1="1879.0" x2="834.9" y2="1931.5" stroke="#1d1d1b" stroke-width="6" stroke-linecap="round"/>
<line x1="842.0" y1="1753.0" x2="856.5" y2="1700.0" stroke="#1d1d1b" stroke-width="6" stroke-linecap="round"/>
<circle cx="853.1" cy="1771.7" r="22.3" fill="#dcb8dd"/>
<circle cx="807.0" cy="1780.0" r="23.7" fill="#dcb8dd"/>
<circle cx="786.7" cy="1825.3" r="18.9" fill="#dcb8dd"/>
<circle cx="809.8" cy="1851.3" r="17.5" fill="#dcb8dd"/>
<circle cx="840.8" cy="1860.3" r="21.6" fill="#dcb8dd"/>
<circle cx="863.8" cy="1840.9" r="20.3" fill="#dcb8dd"/>
<circle cx="831.5" cy="1815.0" r="39.6" fill="#dcb8dd"/>
<circle cx="865.4" cy="1802.2" r="19.8" fill="#dcb8dd"/>
<circle cx="791.0" cy="1798.6" r="19.8" fill="#dcb8dd"/>
<circle cx="829.5" cy="1778.1" r="23.3" fill="#dcb8dd"/>
<circle cx="820.2" cy="1831.9" r="35.0" fill="#dcb8dd"/>
<line x1="816.4" y1="1757.0" x2="813.0" y2="1749.7" stroke="#ecd4ec" stroke-width="2.2" stroke-linecap="round"/>
<line x1="820.4" y1="1757.0" x2="820.4" y2="1749.0" stroke="#ecd4ec" stroke-width="2.2" stroke-linecap="round"/>
<line x1="824.4" y1="1757.0" x2="827.8" y2="1749.7" stroke="#ecd4ec" stroke-width="2.2" stroke-linecap="round"/>
<line x1="851.0" y1="1763.0" x2="851.8" y2="1771.0" stroke="#b48fbd" stroke-width="2.2" stroke-linecap="round"/>
<line x1="855.6" y1="1763.8" x2="856.4" y2="1771.0" stroke="#b48fbd" stroke-width="2.2" stroke-linecap="round"/>
<line x1="860.2" y1="1763.0" x2="861.0" y2="1772.5" stroke="#b48fbd" stroke-width="2.2" stroke-linecap="round"/>
<line x1="806.0" y1="1835.0" x2="806.8" y2="1843.0" stroke="#b48fbd" stroke-width="2.2" stroke-linecap="round"/>
<line x1="810.6" y1="1835.8" x2="811.4" y2="1843.0" stroke="#b48fbd" stroke-width="2.2" stroke-linecap="round"/>
<line x1="815.2" y1="1835.0" x2="816.0" y2="1844.5" stroke="#b48fbd" stroke-width="2.2" stroke-linecap="round"/>
<line x1="832.0" y1="1862.0" x2="832.8" y2="1870.0" stroke="#b48fbd" stroke-width="2.2" stroke-linecap="round"/>
<line x1="836.6" y1="1862.8" x2="837.4" y2="1870.0" stroke="#b48fbd" stroke-width="2.2" stroke-linecap="round"/>
<line x1="841.2" y1="1862.0" x2="842.0" y2="1871.5" stroke="#b48fbd" stroke-width="2.2" stroke-linecap="round"/>
<line x1="788.5" y1="1826.0" x2="709.4" y2="1823.3" stroke="#1d1d1b" stroke-width="7" stroke-linecap="round"/>
<ellipse cx="791.0" cy="1824.0" rx="3.0" ry="6.0" fill="#b98ac2" transform="rotate(-20 791.0 1824.0)"/>
<line x1="881.5" y1="1834.4" x2="949.5" y2="1836.3" stroke="#1d1d1b" stroke-width="7" stroke-linecap="round"/>
<line x1="853.1" y1="1794.7" x2="863.2" y2="1794.7" stroke="#1d1d1b" stroke-width="4.32" stroke-linecap="round"/>
<circle cx="832.9" cy="1794.7" r="20.2" fill="#fff" stroke="#1d1d1b" stroke-width="5.4"/>
<circle cx="883.4" cy="1794.7" r="20.2" fill="#fff" stroke="#1d1d1b" stroke-width="5.4"/>
<path d="M812.7,1794.7 L766.5,1792.5 Q758.5,1792.5 758.5,1800.5" fill="none" stroke="#1d1d1b" stroke-width="4.32" stroke-linecap="round" stroke-linejoin="round"/>
<circle cx="826.0" cy="1787.8" r="4.4" fill="#1d1d1b"/>
<circle cx="875.9" cy="1787.8" r="4.4" fill="#1d1d1b"/>
<ellipse cx="857.3" cy="1820.5" rx="6.2" ry="6.9" fill="#1d1d1b"/>
<line x1="894.0" y1="1686.0" x2="956.4" y2="1705.4" stroke="#1d1d1b" stroke-width="6.6" stroke-linecap="round"/>
<line x1="900.9" y1="1583.0" x2="916.0" y2="1560.0" stroke="#1d1d1b" stroke-width="8" stroke-linecap="round"/>
<circle cx="882.3" cy="1594.2" r="21.6" fill="#dcb8dd"/>
<circle cx="837.7" cy="1602.5" r="22.9" fill="#dcb8dd"/>
<circle cx="818.0" cy="1647.8" r="18.3" fill="#dcb8dd"/>
<circle cx="840.4" cy="1673.8" r="16.9" fill="#dcb8dd"/>
<circle cx="870.5" cy="1682.8" r="20.9" fill="#dcb8dd"/>
<circle cx="892.7" cy="1663.4" r="19.7" fill="#dcb8dd"/>
<circle cx="861.4" cy="1637.5" r="38.4" fill="#dcb8dd"/>
<circle cx="894.3" cy="1624.7" r="19.2" fill="#dcb8dd"/>
<circle cx="822.2" cy="1621.1" r="19.2" fill="#dcb8dd"/>
<circle cx="859.5" cy="1600.6" r="22.6" fill="#dcb8dd"/>
<circle cx="850.5" cy="1654.4" r="33.9" fill="#dcb8dd"/>
<line x1="885.8" y1="1579.0" x2="882.4" y2="1571.7" stroke="#ecd4ec" stroke-width="2.2" stroke-linecap="round"/>
<line x1="889.8" y1="1579.0" x2="889.8" y2="1571.0" stroke="#ecd4ec" stroke-width="2.2" stroke-linecap="round"/>
<line x1="893.8" y1="1579.0" x2="897.2" y2="1571.7" stroke="#ecd4ec" stroke-width="2.2" stroke-linecap="round"/>
<line x1="883.0" y1="1586.0" x2="883.8" y2="1594.0" stroke="#b48fbd" stroke-width="2.2" stroke-linecap="round"/>
<line x1="887.6" y1="1586.8" x2="888.4" y2="1594.0" stroke="#b48fbd" stroke-width="2.2" stroke-linecap="round"/>
<line x1="892.2" y1="1586.0" x2="893.0" y2="1595.5" stroke="#b48fbd" stroke-width="2.2" stroke-linecap="round"/>
<line x1="834.0" y1="1642.0" x2="834.8" y2="1650.0" stroke="#b48fbd" stroke-width="2.2" stroke-linecap="round"/>
<line x1="838.6" y1="1642.8" x2="839.4" y2="1650.0" stroke="#b48fbd" stroke-width="2.2" stroke-linecap="round"/>
<line x1="843.2" y1="1642.0" x2="844.0" y2="1651.5" stroke="#b48fbd" stroke-width="2.2" stroke-linecap="round"/>
<line x1="856.0" y1="1666.0" x2="856.8" y2="1674.0" stroke="#b48fbd" stroke-width="2.2" stroke-linecap="round"/>
<line x1="860.6" y1="1666.8" x2="861.4" y2="1674.0" stroke="#b48fbd" stroke-width="2.2" stroke-linecap="round"/>
<line x1="865.2" y1="1666.0" x2="866.0" y2="1675.5" stroke="#b48fbd" stroke-width="2.2" stroke-linecap="round"/>
<line x1="885.0" y1="1617.9" x2="896.8" y2="1617.9" stroke="#1d1d1b" stroke-width="4.32" stroke-linecap="round"/>
<circle cx="864.8" cy="1617.9" r="20.2" fill="#fff" stroke="#1d1d1b" stroke-width="5.4"/>
<circle cx="917.0" cy="1617.9" r="20.2" fill="#fff" stroke="#1d1d1b" stroke-width="5.4"/>
<path d="M844.6,1617.9 L799.3,1614.5 Q791.3,1614.5 791.3,1622.5" fill="none" stroke="#1d1d1b" stroke-width="4.32" stroke-linecap="round" stroke-linejoin="round"/>
<path d="M859,1620.5 Q864.8,1610.5 870.6,1620.5" fill="none" stroke="#1d1d1b" stroke-width="3.2" stroke-linecap="round" stroke-linejoin="round"/>
<path d="M911.2,1620.5 Q917,1610.5 922.8,1620.5" fill="none" stroke="#1d1d1b" stroke-width="3.2" stroke-linecap="round" stroke-linejoin="round"/>
<path d="M883,1639 Q889.2,1646 895.5,1639" fill="none" stroke="#1d1d1b" stroke-width="2.6" stroke-linecap="round" stroke-linejoin="round"/>
<line x1="821.8" y1="1640.0" x2="867.6" y2="1527.8" stroke="#1d1d1b" stroke-width="7.4" stroke-linecap="round"/>
<ellipse cx="824.0" cy="1642.0" rx="6.0" ry="2.6" fill="#b98ac2" transform="rotate(20 824.0 1642.0)"/>
<g transform="translate(950 1486) rotate(22)">
<polygon points="-97,-38 92,-49 92,53 -97,40" fill="#fdedb2" stroke="#fdedb2" stroke-width="56" stroke-linejoin="round"/>
<line x1="-102.0" y1="-31.0" x2="-54.0" y2="-31.0" stroke="#f6e29c" stroke-width="3.4" stroke-linecap="round"/>
<line x1="-90.0" y1="-44.0" x2="-90.0" y2="4.0" stroke="#f6e29c" stroke-width="3.4" stroke-linecap="round"/>
<line x1="-102.0" y1="-20.0" x2="-54.0" y2="-20.0" stroke="#f6e29c" stroke-width="3.4" stroke-linecap="round"/>
<line x1="-78.0" y1="-44.0" x2="-78.0" y2="4.0" stroke="#f6e29c" stroke-width="3.4" stroke-linecap="round"/>
<line x1="-102.0" y1="-9.0" x2="-54.0" y2="-9.0" stroke="#f6e29c" stroke-width="3.4" stroke-linecap="round"/>
<line x1="-66.0" y1="-44.0" x2="-66.0" y2="4.0" stroke="#f6e29c" stroke-width="3.4" stroke-linecap="round"/>
<line x1="24.0" y1="-59.0" x2="72.0" y2="-59.0" stroke="#f6e29c" stroke-width="3.4" stroke-linecap="round"/>
<line x1="36.0" y1="-72.0" x2="36.0" y2="-24.0" stroke="#f6e29c" stroke-width="3.4" stroke-linecap="round"/>
<line x1="24.0" y1="-48.0" x2="72.0" y2="-48.0" stroke="#f6e29c" stroke-width="3.4" stroke-linecap="round"/>
<line x1="48.0" y1="-72.0" x2="48.0" y2="-24.0" stroke="#f6e29c" stroke-width="3.4" stroke-linecap="round"/>
<line x1="24.0" y1="-37.0" x2="72.0" y2="-37.0" stroke="#f6e29c" stroke-width="3.4" stroke-linecap="round"/>
<line x1="60.0" y1="-72.0" x2="60.0" y2="-24.0" stroke="#f6e29c" stroke-width="3.4" stroke-linecap="round"/>
<line x1="38.0" y1="37.0" x2="86.0" y2="37.0" stroke="#f6e29c" stroke-width="3.4" stroke-linecap="round"/>
<line x1="50.0" y1="24.0" x2="50.0" y2="72.0" stroke="#f6e29c" stroke-width="3.4" stroke-linecap="round"/>
<line x1="38.0" y1="48.0" x2="86.0" y2="48.0" stroke="#f6e29c" stroke-width="3.4" stroke-linecap="round"/>
<line x1="62.0" y1="24.0" x2="62.0" y2="72.0" stroke="#f6e29c" stroke-width="3.4" stroke-linecap="round"/>
<line x1="38.0" y1="59.0" x2="86.0" y2="59.0" stroke="#f6e29c" stroke-width="3.4" stroke-linecap="round"/>
<line x1="74.0" y1="24.0" x2="74.0" y2="72.0" stroke="#f6e29c" stroke-width="3.4" stroke-linecap="round"/>
<rect x="91.0" y="-62.0" width="22.0" height="130.0" rx="11" fill="#1d1d1b"/>
<ellipse cx="102.0" cy="28.0" rx="5.5" ry="1.8" fill="#fff" transform="rotate(70 102.0 28.0)"/>
<ellipse cx="105.0" cy="37.0" rx="5.5" ry="1.8" fill="#fff" transform="rotate(110 105.0 37.0)"/>
<ellipse cx="102.0" cy="45.0" rx="5.5" ry="1.8" fill="#fff" transform="rotate(65 102.0 45.0)"/>
<ellipse cx="105.0" cy="53.0" rx="5.5" ry="1.8" fill="#fff" transform="rotate(100 105.0 53.0)"/>
<text x="47" y="9" font-size="23" text-anchor="middle" fill="#1b1b1f" transform="rotate(90 47 9) translate(0 8)" textLength="58" lengthAdjust="spacingAndGlyphs">RICE</text>
</g>
<path d="M-4.4,0 C-4.4,-1.3 -1.3,-2.4 2.0,-2.4 A2.4,2.4 0 0 1 2.0,2.4 C-1.3,2.4 -4.4,1.3 -4.4,0Z" fill="#fff" transform="translate(1025.7 1691.1) rotate(74)"/>
<path d="M-7.2,0 C-7.2,-1.8 -2.2,-3.3 4.0,-3.3 A3.3,3.3 0 0 1 4.0,3.3 C-2.2,3.3 -7.2,1.8 -7.2,0Z" fill="#fff" transform="translate(1057.5 1564.6) rotate(309)"/>
<rect x="1109.2" y="1822.9" width="10.1" height="4.8" rx="2.4" fill="#fff" transform="rotate(36 1114.2 1825.3)"/>
<path d="M-4.6,0 C-4.6,-1.3 -1.4,-2.4 2.2,-2.4 A2.4,2.4 0 0 1 2.2,2.4 C-1.4,2.4 -4.6,1.3 -4.6,0Z" fill="#fff" transform="translate(1042.3 1600.1) rotate(107)"/>
<path d="M-8.9,0 C-8.9,-1.8 -2.7,-3.3 5.6,-3.3 A3.3,3.3 0 0 1 5.6,3.3 C-2.7,3.3 -8.9,1.8 -8.9,0Z" fill="#fff" transform="translate(1037.0 1575.8) rotate(68)"/>
<rect x="1090.0" y="1678.3" width="9.5" height="4.3" rx="2.2" fill="#fff" transform="rotate(93 1094.7 1680.5)"/>
<path d="M-4.5,0 C-4.5,-1.3 -1.3,-2.3 2.2,-2.3 A2.3,2.3 0 0 1 2.2,2.3 C-1.3,2.3 -4.5,1.3 -4.5,0Z" fill="#fff" transform="translate(1041.0 1870.4) rotate(121)"/>
<path d="M-4.9,0 C-4.9,-1.4 -1.5,-2.5 2.4,-2.5 A2.5,2.5 0 0 1 2.4,2.5 C-1.5,2.5 -4.9,1.4 -4.9,0Z" fill="#fff" transform="translate(1072.6 1885.9) rotate(101)"/>
<rect x="1105.0" y="1916.7" width="17.7" height="5.2" rx="2.6" fill="#fff" transform="rotate(114 1113.9 1919.3)"/>
<path d="M-8.1,0 C-8.1,-1.9 -2.4,-3.5 4.5,-3.5 A3.5,3.5 0 0 1 4.5,3.5 C-2.4,3.5 -8.1,1.9 -8.1,0Z" fill="#fff" transform="translate(1100.2 1986.9) rotate(213)"/>
<path d="M-8.1,0 C-8.1,-2.1 -2.4,-3.8 4.3,-3.8 A3.8,3.8 0 0 1 4.3,3.8 C-2.4,3.8 -8.1,2.1 -8.1,0Z" fill="#fff" transform="translate(1023.4 1887.6) rotate(40)"/>
<rect x="1095.1" y="1936.4" width="9.6" height="4.1" rx="2.1" fill="#fff" transform="rotate(73 1099.9 1938.5)"/>
<path d="M-7.6,0 C-7.6,-1.7 -2.3,-3.1 4.6,-3.1 A3.1,3.1 0 0 1 4.6,3.1 C-2.3,3.1 -7.6,1.7 -7.6,0Z" fill="#fff" transform="translate(1025.8 1971.3) rotate(88)"/>
<rect x="1066.2" y="1709.1" width="11.3" height="4.2" rx="2.1" fill="#fff" transform="rotate(104 1071.9 1711.2)"/>
<path d="M-6.0,0 C-6.0,-1.4 -1.8,-2.6 3.4,-2.6 A2.6,2.6 0 0 1 3.4,2.6 C-1.8,2.6 -6.0,1.4 -6.0,0Z" fill="#fff" transform="translate(1077.5 1571.9) rotate(257)"/>
<path d="M-7.6,0 C-7.6,-1.6 -2.3,-3.0 4.6,-3.0 A3.0,3.0 0 0 1 4.6,3.0 C-2.3,3.0 -7.6,1.6 -7.6,0Z" fill="#fff" transform="translate(1015.9 1828.4) rotate(251)"/>
<path d="M-7.1,0 C-7.1,-2.1 -2.1,-3.8 3.3,-3.8 A3.8,3.8 0 0 1 3.3,3.8 C-2.1,3.8 -7.1,2.1 -7.1,0Z" fill="#fff" transform="translate(1020.3 1614.9) rotate(104)"/>
<path d="M-9.3,0 C-9.3,-2.1 -2.8,-3.9 5.4,-3.9 A3.9,3.9 0 0 1 5.4,3.9 C-2.8,3.9 -9.3,2.1 -9.3,0Z" fill="#fff" transform="translate(1049.4 1701.5) rotate(266)"/>
<rect x="1059.1" y="1965.8" width="17.0" height="5.1" rx="2.5" fill="#fff" transform="rotate(93 1067.6 1968.3)"/>
<path d="M-9.1,0 C-9.1,-1.9 -2.7,-3.4 5.7,-3.4 A3.4,3.4 0 0 1 5.7,3.4 C-2.7,3.4 -9.1,1.9 -9.1,0Z" fill="#fff" transform="translate(1045.1 1663.4) rotate(303)"/>
<path d="M-8.4,0 C-8.4,-1.8 -2.5,-3.2 5.2,-3.2 A3.2,3.2 0 0 1 5.2,3.2 C-2.5,3.2 -8.4,1.8 -8.4,0Z" fill="#fff" transform="translate(1091.1 1909.7) rotate(33)"/>
<rect x="1074.2" y="1660.2" width="10.3" height="4.8" rx="2.4" fill="#fff" transform="rotate(149 1079.3 1662.6)"/>
<path d="M-8.7,0 C-8.7,-2.1 -2.6,-3.8 4.9,-3.8 A3.8,3.8 0 0 1 4.9,3.8 C-2.6,3.8 -8.7,2.1 -8.7,0Z" fill="#fff" transform="translate(1025.0 1648.3) rotate(131)"/>
<path d="M-4.9,0 C-4.9,-1.4 -1.5,-2.6 2.4,-2.6 A2.6,2.6 0 0 1 2.4,2.6 C-1.5,2.6 -4.9,1.4 -4.9,0Z" fill="#fff" transform="translate(1028.8 1759.3) rotate(147)"/>
<rect x="1082.1" y="1963.8" width="14.7" height="5.3" rx="2.7" fill="#fff" transform="rotate(139 1089.5 1966.5)"/>
<path d="M-5.6,0 C-5.6,-1.2 -1.7,-2.2 3.3,-2.2 A2.2,2.2 0 0 1 3.3,2.2 C-1.7,2.2 -5.6,1.2 -5.6,0Z" fill="#fff" transform="translate(1081.6 1612.6) rotate(276)"/>
<path d="M-9.4,0 C-9.4,-2.0 -2.8,-3.7 5.7,-3.7 A3.7,3.7 0 0 1 5.7,3.7 C-2.8,3.7 -9.4,2.0 -9.4,0Z" fill="#fff" transform="translate(1112.6 1780.7) rotate(55)"/>
<path d="M-8.5,0 C-8.5,-1.9 -2.5,-3.4 5.1,-3.4 A3.4,3.4 0 0 1 5.1,3.4 C-2.5,3.4 -8.5,1.9 -8.5,0Z" fill="#fff" transform="translate(1110.9 1733.9) rotate(212)"/>
<path d="M-5.4,0 C-5.4,-1.2 -1.6,-2.2 3.1,-2.2 A2.2,2.2 0 0 1 3.1,2.2 C-1.6,2.2 -5.4,1.2 -5.4,0Z" fill="#fff" transform="translate(1050.7 1624.2) rotate(92)"/>
<path d="M-5.1,0 C-5.1,-1.3 -1.5,-2.4 2.7,-2.4 A2.4,2.4 0 0 1 2.7,2.4 C-1.5,2.4 -5.1,1.3 -5.1,0Z" fill="#fff" transform="translate(1093.4 1796.3) rotate(91)"/>
<rect x="1058.6" y="1744.7" width="19.2" height="6.4" rx="3.2" fill="#fff" transform="rotate(135 1068.2 1747.9)"/>
<path d="M-4.6,0 C-4.6,-1.4 -1.4,-2.5 2.1,-2.5 A2.5,2.5 0 0 1 2.1,2.5 C-1.4,2.5 -4.6,1.4 -4.6,0Z" fill="#fff" transform="translate(1096.0 1843.9) rotate(109)"/>
<path d="M-8.4,0 C-8.4,-1.7 -2.5,-3.2 5.2,-3.2 A3.2,3.2 0 0 1 5.2,3.2 C-2.5,3.2 -8.4,1.7 -8.4,0Z" fill="#fff" transform="translate(1026.9 1915.9) rotate(53)"/>
<rect x="1002.3" y="1739.7" width="17.4" height="6.1" rx="3.0" fill="#fff" transform="rotate(38 1011.0 1742.7)"/>
<path d="M-7.7,0 C-7.7,-1.6 -2.3,-2.8 4.9,-2.8 A2.8,2.8 0 0 1 4.9,2.8 C-2.3,2.8 -7.7,1.6 -7.7,0Z" fill="#fff" transform="translate(1116.9 1896.5) rotate(303)"/>
<path d="M-9.6,0 C-9.6,-1.9 -2.9,-3.5 6.1,-3.5 A3.5,3.5 0 0 1 6.1,3.5 C-2.9,3.5 -9.6,1.9 -9.6,0Z" fill="#fff" transform="translate(1056.2 1852.2) rotate(126)"/>
<path d="M-6.1,0 C-6.1,-1.2 -1.8,-2.2 3.9,-2.2 A2.2,2.2 0 0 1 3.9,2.2 C-1.8,2.2 -6.1,1.2 -6.1,0Z" fill="#fff" transform="translate(1046.6 1748.6) rotate(226)"/>
<rect x="1047.7" y="1907.1" width="18.6" height="5.8" rx="2.9" fill="#fff" transform="rotate(91 1057.0 1910.0)"/>
<path d="M-5.7,0 C-5.7,-1.3 -1.7,-2.4 3.2,-2.4 A2.4,2.4 0 0 1 3.2,2.4 C-1.7,2.4 -5.7,1.3 -5.7,0Z" fill="#fff" transform="translate(1047.0 1982.2) rotate(259)"/>
<path d="M-7.7,0 C-7.7,-2.1 -2.3,-3.9 3.8,-3.9 A3.9,3.9 0 0 1 3.8,3.9 C-2.3,3.9 -7.7,2.1 -7.7,0Z" fill="#fff" transform="translate(1117.0 1973.1) rotate(247)"/>
<path d="M-7.2,0 C-7.2,-1.8 -2.2,-3.2 4.0,-3.2 A3.2,3.2 0 0 1 4.0,3.2 C-2.2,3.2 -7.2,1.8 -7.2,0Z" fill="#fff" transform="translate(1009.5 1771.1) rotate(35)"/>
<rect x="1042.5" y="1933.9" width="19.4" height="5.3" rx="2.7" fill="#fff" transform="rotate(117 1052.2 1936.6)"/>
<path d="M-5.9,0 C-5.9,-1.2 -1.8,-2.1 3.8,-2.1 A2.1,2.1 0 0 1 3.8,2.1 C-1.8,2.1 -5.9,1.2 -5.9,0Z" fill="#fff" transform="translate(1078.6 1942.2) rotate(93)"/>
<path d="M-7.0,0 C-7.0,-2.0 -2.1,-3.7 3.3,-3.7 A3.7,3.7 0 0 1 3.3,3.7 C-2.1,3.7 -7.0,2.0 -7.0,0Z" fill="#fff" transform="translate(1084.6 1824.8) rotate(120)"/>
<rect x="1109.3" y="1872.0" width="16.1" height="6.0" rx="3.0" fill="#fff" transform="rotate(112 1117.3 1875.0)"/>
<rect x="1063.3" y="1679.8" width="14.3" height="5.6" rx="2.8" fill="#fff" transform="rotate(111 1070.4 1682.6)"/>
<rect x="1053.3" y="1772.9" width="14.7" height="6.8" rx="3.4" fill="#fff" transform="rotate(54 1060.6 1776.3)"/>
<path d="M-9.6,0 C-9.6,-1.6 -2.9,-2.9 6.7,-2.9 A2.9,2.9 0 0 1 6.7,2.9 C-2.9,2.9 -9.6,1.6 -9.6,0Z" fill="#fff" transform="translate(1024.7 1805.0) rotate(128)"/>
<rect x="1041.3" y="1805.8" width="15.5" height="5.1" rx="2.6" fill="#fff" transform="rotate(42 1049.0 1808.4)"/>
<rect x="1109.3" y="1710.8" width="11.7" height="4.4" rx="2.2" fill="#fff" transform="rotate(140 1115.1 1713.0)"/>
<path d="M-4.8,0 C-4.8,-1.1 -1.4,-2.0 2.8,-2.0 A2.0,2.0 0 0 1 2.8,2.0 C-1.4,2.0 -4.8,1.1 -4.8,0Z" fill="#fff" transform="translate(1092.5 1747.3) rotate(141)"/>
<path d="M-7.6,0 C-7.6,-2.1 -2.3,-3.8 3.8,-3.8 A3.8,3.8 0 0 1 3.8,3.8 C-2.3,3.8 -7.6,2.1 -7.6,0Z" fill="#fff" transform="translate(1027.6 1722.3) rotate(90)"/>
<rect x="1075.7" y="1864.9" width="10.3" height="4.3" rx="2.1" fill="#fff" transform="rotate(35 1080.9 1867.0)"/>
<rect x="1095.1" y="1648.9" width="9.7" height="3.8" rx="1.9" fill="#fff" transform="rotate(60 1100.0 1650.8)"/>
<path d="M-8.4,0 C-8.4,-1.9 -2.5,-3.4 5.0,-3.4 A3.4,3.4 0 0 1 5.0,3.4 C-2.5,3.4 -8.4,1.9 -8.4,0Z" fill="#fff" transform="translate(1021.4 1856.8) rotate(77)"/>
<path d="M-5.3,0 C-5.3,-1.2 -1.6,-2.1 3.1,-2.1 A2.1,2.1 0 0 1 3.1,2.1 C-1.6,2.1 -5.3,1.2 -5.3,0Z" fill="#fff" transform="translate(1083.3 1635.6) rotate(146)"/>
<path d="M-6.1,0 C-6.1,-1.3 -1.8,-2.4 3.6,-2.4 A2.4,2.4 0 0 1 3.6,2.4 C-1.8,2.4 -6.1,1.3 -6.1,0Z" fill="#fff" transform="translate(1007.4 1669.8) rotate(323)"/>
<path d="M-5.0,0 C-5.0,-1.2 -1.5,-2.2 2.8,-2.2 A2.2,2.2 0 0 1 2.8,2.2 C-1.5,2.2 -5.0,1.2 -5.0,0Z" fill="#fff" transform="translate(1115.2 1758.0) rotate(82)"/>
<rect x="1080.1" y="1765.4" width="15.3" height="5.9" rx="2.9" fill="#fff" transform="rotate(104 1087.8 1768.3)"/>
<path d="M-7.5,0 C-7.5,-1.8 -2.2,-3.3 4.2,-3.3 A3.3,3.3 0 0 1 4.2,3.3 C-2.2,3.3 -7.5,1.8 -7.5,0Z" fill="#fff" transform="translate(1095.6 1885.5) rotate(43)"/>
<path d="M-5.4,0 C-5.4,-1.3 -1.6,-2.4 3.0,-2.4 A2.4,2.4 0 0 1 3.0,2.4 C-1.6,2.4 -5.4,1.3 -5.4,0Z" fill="#fff" transform="translate(1048.9 1829.3) rotate(136)"/>
<rect x="1086.4" y="1704.0" width="15.0" height="6.5" rx="3.3" fill="#fff" transform="rotate(36 1093.9 1707.2)"/>
<path d="M-8.8,0 C-8.8,-1.6 -2.6,-2.8 6.0,-2.8 A2.8,2.8 0 0 1 6.0,2.8 C-2.6,2.8 -8.8,1.6 -8.8,0Z" fill="#fff" transform="translate(1023.7 1943.8) rotate(210)"/>
<rect x="1065.7" y="1803.0" width="17.4" height="6.0" rx="3.0" fill="#fff" transform="rotate(46 1074.4 1805.9)"/>
<path d="M-5.8,0 C-5.8,-1.3 -1.7,-2.3 3.5,-2.3 A2.3,2.3 0 0 1 3.5,2.3 C-1.7,2.3 -5.8,1.3 -5.8,0Z" fill="#fff" transform="translate(1065.8 1590.3) rotate(62)"/>
<path d="M-4.4,0 C-4.4,-1.4 -1.3,-2.6 1.9,-2.6 A2.6,2.6 0 0 1 1.9,2.6 C-1.3,2.6 -4.4,1.4 -4.4,0Z" fill="#fff" transform="translate(1033.0 1785.7) rotate(230)"/>
<path d="M-4.4,0 C-4.4,-1.4 -1.3,-2.6 1.8,-2.6 A2.6,2.6 0 0 1 1.8,2.6 C-1.3,2.6 -4.4,1.4 -4.4,0Z" fill="#fff" transform="translate(1052.8 1725.4) rotate(33)"/>
<rect x="1038.7" y="1888.4" width="15.8" height="5.9" rx="3.0" fill="#fff" transform="rotate(148 1046.6 1891.4)"/>
<path d="M-8.9,0 C-8.9,-1.8 -2.7,-3.2 5.7,-3.2 A3.2,3.2 0 0 1 5.7,3.2 C-2.7,3.2 -8.9,1.8 -8.9,0Z" fill="#fff" transform="translate(1066.4 1989.3) rotate(73)"/>
<rect x="1111.9" y="1686.7" width="10.6" height="3.7" rx="1.9" fill="#fff" transform="rotate(137 1117.2 1688.6)"/>
<path d="M-9.4,0 C-9.4,-1.6 -2.8,-3.0 6.5,-3.0 A3.0,3.0 0 0 1 6.5,3.0 C-2.8,3.0 -9.4,1.6 -9.4,0Z" fill="#fff" transform="translate(1048.0 1961.6) rotate(98)"/>
<path d="M-8.4,0 C-8.4,-1.9 -2.5,-3.4 5.0,-3.4 A3.4,3.4 0 0 1 5.0,3.4 C-2.5,3.4 -8.4,1.9 -8.4,0Z" fill="#fff" transform="translate(1063.6 1648.1) rotate(220)"/>
<path d="M-9.1,0 C-9.1,-1.8 -2.7,-3.3 5.9,-3.3 A3.3,3.3 0 0 1 5.9,3.3 C-2.7,3.3 -9.1,1.8 -9.1,0Z" fill="#fff" transform="translate(1118.6 1804.6) rotate(134)"/>
<rect x="1004.6" y="1706.1" width="11.1" height="4.3" rx="2.1" fill="#fff" transform="rotate(96 1010.2 1708.3)"/>
<path d="M-5.7,0 C-5.7,-1.3 -1.7,-2.4 3.3,-2.4 A2.4,2.4 0 0 1 3.3,2.4 C-1.7,2.4 -5.7,1.3 -5.7,0Z" fill="#fff" transform="translate(1005.2 1638.9) rotate(242)"/>
<path d="M-8.8,0 C-8.8,-1.9 -2.6,-3.4 5.4,-3.4 A3.4,3.4 0 0 1 5.4,3.4 C-2.6,3.4 -8.8,1.9 -8.8,0Z" fill="#fff" transform="translate(1087.6 1590.9) rotate(237)"/>
<rect x="1077.1" y="1723.5" width="18.6" height="7.0" rx="3.5" fill="#fff" transform="rotate(43 1086.4 1727.0)"/>
<path d="M-7.7,0 C-7.7,-1.9 -2.3,-3.5 4.2,-3.5 A3.5,3.5 0 0 1 4.2,3.5 C-2.3,3.5 -7.7,1.9 -7.7,0Z" fill="#fff" transform="translate(1119.3 1851.8) rotate(57)"/>
<rect x="1066.5" y="1546.2" width="8.9" height="4.6" rx="2.3" fill="#fff" transform="rotate(123 1070.9 1548.4)"/>
<path d="M-5.3,0 C-5.3,-1.4 -1.6,-2.5 2.7,-2.5 A2.5,2.5 0 0 1 2.7,2.5 C-1.6,2.5 -5.3,1.4 -5.3,0Z" fill="#fff" transform="translate(1119.7 1949.5) rotate(112)"/>
<rect x="1001.7" y="1985.4" width="14.8" height="5.4" rx="2.7" fill="#fff" transform="rotate(63 1009.1 1988.0)"/>
<rect x="1108.0" y="1666.2" width="9.9" height="4.2" rx="2.1" fill="#fff" transform="rotate(129 1113.0 1668.3)"/>
<path d="M-7.1,0 C-7.1,-2.0 -2.1,-3.6 3.5,-3.6 A3.6,3.6 0 0 1 3.5,3.6 C-2.1,3.6 -7.1,2.0 -7.1,0Z" fill="#fff" transform="translate(1009.0 1904.4) rotate(149)"/>
<rect x="999.8" y="1926.0" width="19.0" height="6.3" rx="3.1" fill="#fff" transform="rotate(142 1009.3 1929.1)"/>
<path d="M1165,1738 C1157,1765 1149,1800 1146.7,1836 L1146,1977 H1162.5 L1165,1836 C1167,1800 1177,1775 1179.5,1752 L1177,1733 Z" fill="#c5dff5"/>
<path d="M1126.7,1660 L1262,1604 Q1286,1597 1295,1618 L1317,1683 Q1322,1699 1308,1705 L1194,1756 L1183,1797 Z" fill="#9ad3e8"/>
<line x1="1142.5" y1="1670.0" x2="1170.5" y2="1730.0" stroke="#1d1d1b" stroke-width="15" stroke-linecap="round"/>
<line x1="1199.0" y1="1753.5" x2="1193.0" y2="1739.7" stroke="#7fb5d5" stroke-width="2.2" stroke-linecap="round"/>
<line x1="1209.3" y1="1748.9" x2="1205.3" y2="1739.7" stroke="#7fb5d5" stroke-width="2.2" stroke-linecap="round"/>
<line x1="1219.6" y1="1744.3" x2="1215.6" y2="1735.1" stroke="#7fb5d5" stroke-width="2.2" stroke-linecap="round"/>
<line x1="1229.9" y1="1739.7" x2="1223.9" y2="1725.9" stroke="#7fb5d5" stroke-width="2.2" stroke-linecap="round"/>
<line x1="1240.2" y1="1735.1" x2="1236.2" y2="1725.9" stroke="#7fb5d5" stroke-width="2.2" stroke-linecap="round"/>
<line x1="1250.5" y1="1730.5" x2="1246.5" y2="1721.3" stroke="#7fb5d5" stroke-width="2.2" stroke-linecap="round"/>
<line x1="1260.8" y1="1725.9" x2="1254.8" y2="1712.1" stroke="#7fb5d5" stroke-width="2.2" stroke-linecap="round"/>
<line x1="1271.1" y1="1721.3" x2="1267.1" y2="1712.1" stroke="#7fb5d5" stroke-width="2.2" stroke-linecap="round"/>
<line x1="1281.4" y1="1716.7" x2="1277.4" y2="1707.5" stroke="#7fb5d5" stroke-width="2.2" stroke-linecap="round"/>
<line x1="1291.7" y1="1712.1" x2="1285.7" y2="1698.3" stroke="#7fb5d5" stroke-width="2.2" stroke-linecap="round"/>
<line x1="1302.0" y1="1707.5" x2="1298.0" y2="1698.3" stroke="#7fb5d5" stroke-width="2.2" stroke-linecap="round"/>
<text x="1199.4" y="1696.3" font-size="22" text-anchor="middle" fill="#1b1b1f" transform="rotate(-110 1199.4 1696.3) translate(0 8)" textLength="71" lengthAdjust="spacingAndGlyphs">WATER</text>
<rect x="1234.9" y="1926.7" width="70.0" height="12.3" rx="6.149999999999977" fill="#5878b6"/>
<line x1="1261.8" y1="1872.0" x2="1261.8" y2="1933.0" stroke="#1d1d1b" stroke-width="5.5" stroke-linecap="round"/>
<line x1="1278.7" y1="1872.0" x2="1278.7" y2="1933.0" stroke="#1d1d1b" stroke-width="5.5" stroke-linecap="round"/>
<line x1="1239.0" y1="1762.0" x2="1229.0" y2="1744.0" stroke="#1d1d1b" stroke-width="6" stroke-linecap="round"/>
<circle cx="1257.7" cy="1768.2" r="21.4" fill="#dcb8dd"/>
<circle cx="1302.0" cy="1776.5" r="22.7" fill="#dcb8dd"/>
<circle cx="1321.4" cy="1821.8" r="18.1" fill="#dcb8dd"/>
<circle cx="1299.3" cy="1847.8" r="16.8" fill="#dcb8dd"/>
<circle cx="1269.5" cy="1856.8" r="20.7" fill="#dcb8dd"/>
<circle cx="1247.4" cy="1837.4" r="19.5" fill="#dcb8dd"/>
<circle cx="1278.4" cy="1811.5" r="38.1" fill="#dcb8dd"/>
<circle cx="1245.8" cy="1798.7" r="19.0" fill="#dcb8dd"/>
<circle cx="1317.3" cy="1795.1" r="19.0" fill="#dcb8dd"/>
<circle cx="1280.3" cy="1774.6" r="22.4" fill="#dcb8dd"/>
<circle cx="1289.3" cy="1828.4" r="33.6" fill="#dcb8dd"/>
<line x1="1246.0" y1="1752.0" x2="1242.6" y2="1744.7" stroke="#ecd4ec" stroke-width="2.2" stroke-linecap="round"/>
<line x1="1250.0" y1="1752.0" x2="1250.0" y2="1744.0" stroke="#ecd4ec" stroke-width="2.2" stroke-linecap="round"/>
<line x1="1254.0" y1="1752.0" x2="1257.4" y2="1744.7" stroke="#ecd4ec" stroke-width="2.2" stroke-linecap="round"/>
<line x1="1253.0" y1="1768.0" x2="1253.8" y2="1776.0" stroke="#b48fbd" stroke-width="2.2" stroke-linecap="round"/>
<line x1="1257.6" y1="1768.8" x2="1258.4" y2="1776.0" stroke="#b48fbd" stroke-width="2.2" stroke-linecap="round"/>
<line x1="1262.2" y1="1768.0" x2="1263.0" y2="1777.5" stroke="#b48fbd" stroke-width="2.2" stroke-linecap="round"/>
<line x1="1295.0" y1="1821.0" x2="1295.8" y2="1829.0" stroke="#b48fbd" stroke-width="2.2" stroke-linecap="round"/>
<line x1="1299.6" y1="1821.8" x2="1300.4" y2="1829.0" stroke="#b48fbd" stroke-width="2.2" stroke-linecap="round"/>
<line x1="1304.2" y1="1821.0" x2="1305.0" y2="1830.5" stroke="#b48fbd" stroke-width="2.2" stroke-linecap="round"/>
<line x1="1243.3" y1="1793.3" x2="1255.4" y2="1793.9" stroke="#1d1d1b" stroke-width="4.16" stroke-linecap="round"/>
<circle cx="1223.7" cy="1792.5" r="19.6" fill="#fff" stroke="#1d1d1b" stroke-width="5.2"/>
<circle cx="1275.0" cy="1794.7" r="19.6" fill="#fff" stroke="#1d1d1b" stroke-width="5.2"/>
<path d="M1294.6,1794.7 L1340.5,1792.0 Q1348.5,1792.0 1348.5,1800.0" fill="none" stroke="#1d1d1b" stroke-width="4.16" stroke-linecap="round" stroke-linejoin="round"/>
<circle cx="1218.3" cy="1800.0" r="4.2" fill="#1d1d1b"/>
<circle cx="1268.0" cy="1800.0" r="4.2" fill="#1d1d1b"/>
<path d="M1244,1814 Q1250,1821 1256,1814" fill="none" stroke="#1d1d1b" stroke-width="2.4" stroke-linecap="round" stroke-linejoin="round"/>
<path d="M1319.4,1817.6 Q1300,1755 1270.8,1703" fill="none" stroke="#1d1d1b" stroke-width="6.8" stroke-linecap="round" stroke-linejoin="round"/>
<ellipse cx="1322.0" cy="1822.0" rx="6.0" ry="2.6" fill="#b98ac2" transform="rotate(-15 1322.0 1822.0)"/>
<defs><linearGradient id="gut" x1="0" x2="1" y1="0" y2="0"><stop offset="0" stop-color="#7f93c4" stop-opacity="0.55"/><stop offset="1" stop-color="#7f93c4" stop-opacity="0"/></linearGradient></defs>
<rect x="1400.0" y="0.0" width="16.0" height="1916.0" rx="0" fill="url(#gut)"/>
<circle cx="1673.0" cy="63.7" r="18.4" fill="#dcb8dd"/>
<circle cx="1634.9" cy="56.5" r="19.6" fill="#dcb8dd"/>
<circle cx="1618.1" cy="17.5" r="15.6" fill="#dcb8dd"/>
<circle cx="1637.2" cy="-4.9" r="14.5" fill="#dcb8dd"/>
<circle cx="1662.8" cy="-12.6" r="17.8" fill="#dcb8dd"/>
<circle cx="1681.8" cy="4.1" r="16.8" fill="#dcb8dd"/>
<circle cx="1655.1" cy="26.4" r="32.8" fill="#dcb8dd"/>
<circle cx="1683.2" cy="37.4" r="16.4" fill="#dcb8dd"/>
<circle cx="1621.7" cy="40.5" r="16.4" fill="#dcb8dd"/>
<circle cx="1653.5" cy="58.2" r="19.3" fill="#dcb8dd"/>
<circle cx="1645.8" cy="11.9" r="28.9" fill="#dcb8dd"/>
<line x1="1633.0" y1="18.0" x2="1633.8" y2="26.0" stroke="#b48fbd" stroke-width="2.2" stroke-linecap="round"/>
<line x1="1637.6" y1="18.8" x2="1638.4" y2="26.0" stroke="#b48fbd" stroke-width="2.2" stroke-linecap="round"/>
<line x1="1642.2" y1="18.0" x2="1643.0" y2="27.5" stroke="#b48fbd" stroke-width="2.2" stroke-linecap="round"/>
<line x1="1665.0" y1="62.0" x2="1665.8" y2="70.0" stroke="#b48fbd" stroke-width="2.2" stroke-linecap="round"/>
<line x1="1669.6" y1="62.8" x2="1670.4" y2="70.0" stroke="#b48fbd" stroke-width="2.2" stroke-linecap="round"/>
<line x1="1674.2" y1="62.0" x2="1675.0" y2="71.5" stroke="#b48fbd" stroke-width="2.2" stroke-linecap="round"/>
<line x1="1650.0" y1="0.0" x2="1650.8" y2="8.0" stroke="#b48fbd" stroke-width="2.2" stroke-linecap="round"/>
<line x1="1654.6" y1="0.8" x2="1655.4" y2="8.0" stroke="#b48fbd" stroke-width="2.2" stroke-linecap="round"/>
<line x1="1659.2" y1="0.0" x2="1660.0" y2="9.5" stroke="#b48fbd" stroke-width="2.2" stroke-linecap="round"/>
<line x1="1620.4" y1="31.0" x2="1620.4" y2="98.7" stroke="#1d1d1b" stroke-width="5.4" stroke-linecap="round"/>
<line x1="1685.7" y1="62.0" x2="1685.7" y2="98.7" stroke="#1d1d1b" stroke-width="5.4" stroke-linecap="round"/>
<ellipse cx="1620.5" cy="28.5" rx="6.0" ry="2.4" fill="#b98ac2" transform="rotate(10 1620.5 28.5)"/>
<path d="M1668.6,28.5 A5.6,6.6 0 0 1 1679.8,28.5 Z" fill="#1d1d1b"/>
<line x1="1668.9" y1="43.9" x2="1682.0" y2="43.9" stroke="#1d1d1b" stroke-width="3.9200000000000004" stroke-linecap="round"/>
<circle cx="1654.0" cy="43.9" r="14.9" fill="#fff" stroke="#1d1d1b" stroke-width="4.9"/>
<circle cx="1696.9" cy="43.9" r="14.9" fill="#fff" stroke="#1d1d1b" stroke-width="4.9"/>
<circle cx="1654.8" cy="53.2" r="3.3" fill="#1d1d1b"/>
<circle cx="1695.7" cy="53.2" r="3.3" fill="#1d1d1b"/>
<path d="M1639,44.5 L1604,45.5 Q1596,45 1595.5,39" fill="none" stroke="#1d1d1b" stroke-width="3.6" stroke-linecap="round" stroke-linejoin="round"/>
<rect x="1600.3" y="118.0" width="276.7" height="119.5" rx="21" fill="#fff"/>
<polygon points="1713.0,122.0 1737.5,122.0 1713.5,80.0" fill="#fff"/>
<text x="1645.0" y="169.4" font-size="35" font-weight="bold" textLength="186.5" lengthAdjust="spacingAndGlyphs" fill="#1d1d1b" stroke="#1d1d1b" stroke-width="1.1" stroke-linejoin="round">Here’s how</text>
<text x="1660.5" y="216.0" font-size="35" font-weight="bold" textLength="154.0" lengthAdjust="spacingAndGlyphs" fill="#1d1d1b" stroke="#1d1d1b" stroke-width="1.1" stroke-linejoin="round">it works...</text>
<path d="M2160.8,190 V229" fill="none" stroke="#ffd466" stroke-width="15.2" stroke-linecap="butt" stroke-linejoin="round"/>
<polygon points="2138.7,227.7 2160.7,249.3 2182.7,227.7" fill="#ffd466"/>
<path d="M2160.8,378 V407" fill="none" stroke="#cfe5f7" stroke-width="15.2" stroke-linecap="butt" stroke-linejoin="round"/>
<polygon points="2138.7,405.7 2160.7,428.2 2182.7,405.7" fill="#cfe5f7"/>
<path d="M2025,931.4 H1584 A23,23 0 0 1 1561,908.4 V314 A23,23 0 0 1 1584,291 H2015" fill="none" stroke="#cfe5f7" stroke-width="15" stroke-linecap="butt" stroke-linejoin="round"/>
<polygon points="2013.7,269.0 2036.8,290.6 2013.7,312.2" fill="#cfe5f7"/>
<path d="M1651,785 V377.5 A23,23 0 0 1 1674,354.5 H2015" fill="none" stroke="#cfe5f7" stroke-width="15" stroke-linecap="butt" stroke-linejoin="round"/>
<polygon points="2013.7,332.9 2036.8,354.5 2013.7,376.1" fill="#cfe5f7"/>
<path d="M2055,558 H1869 A31,31 0 0 0 1838,589 V735" fill="none" stroke="#cfe5f7" stroke-width="15.2" stroke-linecap="butt" stroke-linejoin="round"/>
<polygon points="1816.0,733.0 1838.5,755.7 1861.0,733.0" fill="#cfe5f7"/>
<path d="M2161,670 V835" fill="none" stroke="#cfe5f7" stroke-width="15.4" stroke-linecap="butt" stroke-linejoin="round"/>
<polygon points="2138.7,833.4 2160.7,855.0 2182.7,833.4" fill="#cfe5f7"/>
<path d="M2266,557.7 H2435.4 A32,32 0 0 1 2467.4,589.7 V782" fill="none" stroke="#cfe5f7" stroke-width="15.4" stroke-linecap="butt" stroke-linejoin="round"/>
<polygon points="2445.8,780.0 2467.8,802.3 2489.8,780.0" fill="#cfe5f7"/>
<path d="M2528.8,936 V1049" fill="none" stroke="#cfe5f7" stroke-width="15" stroke-linecap="butt" stroke-linejoin="round"/>
<polygon points="2506.7,1047.4 2528.7,1069.0 2550.7,1047.4" fill="#cfe5f7"/>
<polygon points="2160.6,438.0 2273.5,557.7 2160.6,677.5 2047.7,557.7" fill="#cfe5f7"/>
<rect x="1981.5" y="94.0" width="358.3" height="100.0" rx="21.5" fill="#ffd466"/>
<rect x="2054.6" y="264.5" width="212.7" height="115.8" rx="21.5" fill="#cfe5f7"/>
<rect x="1617.2" y="780.0" width="280.8" height="115.0" rx="22" fill="#cfe5f7"/>
<rect x="2020.0" y="872.7" width="280.8" height="115.7" rx="22" fill="#cfe5f7"/>
<rect x="2412.8" y="824.5" width="231.2" height="115.7" rx="22" fill="#cfe5f7"/>
<rect x="1767.8" y="608.9" width="146.2" height="61.1" rx="14" fill="#fff"/>
<polygon points="1789.4,667.0 1808.5,667.0 1790.0,697.7" fill="#fff"/>
<rect x="2096.3" y="702.7" width="172.1" height="60.7" rx="14" fill="#fff"/>
<polygon points="2114.8,760.0 2134.0,760.0 2115.2,791.6" fill="#fff"/>
<rect x="2389.3" y="632.0" width="171.6" height="60.8" rx="14" fill="#fff"/>
<polygon points="2502.0,690.0 2522.0,690.0 2521.4,722.0" fill="#fff"/>
<text x="2057.6" y="152.9" font-size="29" textLength="214.0" lengthAdjust="spacingAndGlyphs" fill="#1b1b1f">Start heating rice</text>
<text x="2117.6" y="316.3" font-size="29" textLength="94.8" lengthAdjust="spacingAndGlyphs" fill="#1b1b1f">Wait 30</text>
<text x="2113.6" y="354.0" font-size="29" textLength="103.1" lengthAdjust="spacingAndGlyphs" fill="#1b1b1f">seconds</text>
<text x="2136.8" y="528.0" font-size="29" textLength="52.4" lengthAdjust="spacingAndGlyphs" fill="#1b1b1f"><tspan font-weight="bold">Ask</tspan>:</text>
<text x="2101.3" y="566.0" font-size="29" textLength="123.4" lengthAdjust="spacingAndGlyphs" fill="#1b1b1f">Is the rice</text>
<text x="2132.0" y="603.6" font-size="29" textLength="60.0" lengthAdjust="spacingAndGlyphs" fill="#1b1b1f">wet?</text>
<text x="1817.8" y="649.3" font-size="29" textLength="49.9" lengthAdjust="spacingAndGlyphs" fill="#1b1b1f">very</text>
<text x="2142.5" y="740.6" font-size="29" textLength="85.8" lengthAdjust="spacingAndGlyphs" fill="#1b1b1f">slightly</text>
<text x="2425.0" y="671.2" font-size="29" textLength="98.5" lengthAdjust="spacingAndGlyphs" fill="#1b1b1f">not very</text>
<text x="1660.4" y="828.2" font-size="29" textLength="203.0" lengthAdjust="spacingAndGlyphs" fill="#1b1b1f">Set temperature</text>
<text x="1665.7" y="865.2" font-size="29" textLength="192.2" lengthAdjust="spacingAndGlyphs" fill="#1b1b1f">to 95°C (203°F).</text>
<text x="2058.6" y="916.5" font-size="29" textLength="203.6" lengthAdjust="spacingAndGlyphs" fill="#1b1b1f">Set temperature</text>
<text x="2067.0" y="955.0" font-size="29" textLength="187.5" lengthAdjust="spacingAndGlyphs" fill="#1b1b1f">to 90°C (194°F).</text>
<text x="2482.8" y="874.2" font-size="29" textLength="95.0" lengthAdjust="spacingAndGlyphs" fill="#1b1b1f">Wait 30</text>
<text x="2479.7" y="911.8" font-size="29" textLength="101.8" lengthAdjust="spacingAndGlyphs" fill="#1b1b1f">seconds</text>
<line x1="1715.3" y1="738.0" x2="1715.3" y2="779.5" stroke="#1d1d1b" stroke-width="5" stroke-linecap="round"/>
<line x1="1726.7" y1="738.0" x2="1726.7" y2="779.5" stroke="#1d1d1b" stroke-width="5" stroke-linecap="round"/>
<circle cx="1731.5" cy="663.8" r="15.7" fill="#dcb8dd"/>
<circle cx="1699.0" cy="669.9" r="16.7" fill="#dcb8dd"/>
<circle cx="1684.6" cy="703.1" r="13.3" fill="#dcb8dd"/>
<circle cx="1700.9" cy="722.1" r="12.4" fill="#dcb8dd"/>
<circle cx="1722.9" cy="728.7" r="15.2" fill="#dcb8dd"/>
<circle cx="1739.1" cy="714.5" r="14.3" fill="#dcb8dd"/>
<circle cx="1716.3" cy="695.5" r="28.0" fill="#dcb8dd"/>
<circle cx="1740.3" cy="686.1" r="14.0" fill="#dcb8dd"/>
<circle cx="1687.7" cy="683.5" r="14.0" fill="#dcb8dd"/>
<circle cx="1714.9" cy="668.5" r="16.5" fill="#dcb8dd"/>
<circle cx="1708.3" cy="707.9" r="24.7" fill="#dcb8dd"/>
<line x1="1703.8" y1="656.0" x2="1701.1" y2="650.2" stroke="#ecd4ec" stroke-width="1.7600000000000002" stroke-linecap="round"/>
<line x1="1707.0" y1="656.0" x2="1707.0" y2="649.6" stroke="#ecd4ec" stroke-width="1.7600000000000002" stroke-linecap="round"/>
<line x1="1710.2" y1="656.0" x2="1712.9" y2="650.2" stroke="#ecd4ec" stroke-width="1.7600000000000002" stroke-linecap="round"/>
<line x1="1728.0" y1="660.0" x2="1728.6" y2="666.4" stroke="#b48fbd" stroke-width="1.7600000000000002" stroke-linecap="round"/>
<line x1="1731.7" y1="660.6" x2="1732.3" y2="666.4" stroke="#b48fbd" stroke-width="1.7600000000000002" stroke-linecap="round"/>
<line x1="1735.4" y1="660.0" x2="1736.0" y2="667.6" stroke="#b48fbd" stroke-width="1.7600000000000002" stroke-linecap="round"/>
<line x1="1697.0" y1="699.0" x2="1697.6" y2="705.4" stroke="#b48fbd" stroke-width="1.7600000000000002" stroke-linecap="round"/>
<line x1="1700.7" y1="699.6" x2="1701.3" y2="705.4" stroke="#b48fbd" stroke-width="1.7600000000000002" stroke-linecap="round"/>
<line x1="1704.4" y1="699.0" x2="1705.0" y2="706.6" stroke="#b48fbd" stroke-width="1.7600000000000002" stroke-linecap="round"/>
<line x1="1712.0" y1="716.0" x2="1712.6" y2="722.4" stroke="#b48fbd" stroke-width="1.7600000000000002" stroke-linecap="round"/>
<line x1="1715.7" y1="716.6" x2="1716.3" y2="722.4" stroke="#b48fbd" stroke-width="1.7600000000000002" stroke-linecap="round"/>
<line x1="1719.4" y1="716.0" x2="1720.0" y2="723.6" stroke="#b48fbd" stroke-width="1.7600000000000002" stroke-linecap="round"/>
<line x1="1731.9" y1="680.8" x2="1741.6" y2="680.8" stroke="#1d1d1b" stroke-width="3.44" stroke-linecap="round"/>
<circle cx="1718.1" cy="680.8" r="13.8" fill="#fff" stroke="#1d1d1b" stroke-width="4.3"/>
<circle cx="1755.4" cy="680.8" r="13.8" fill="#fff" stroke="#1d1d1b" stroke-width="4.3"/>
<path d="M1704.3,680.8 L1672.8,678.0 Q1664.8,678.0 1664.8,686.0" fill="none" stroke="#1d1d1b" stroke-width="3.44" stroke-linecap="round" stroke-linejoin="round"/>
<line x1="1713.0" y1="680.6" x2="1722.5" y2="681.2" stroke="#1d1d1b" stroke-width="2.8" stroke-linecap="round"/>
<line x1="1749.5" y1="681.4" x2="1759.0" y2="680.8" stroke="#1d1d1b" stroke-width="2.8" stroke-linecap="round"/>
<path d="M1732,695 Q1736,699.5 1740.5,695" fill="none" stroke="#1d1d1b" stroke-width="2" stroke-linecap="round" stroke-linejoin="round"/>
<path d="M1686,698 V724 Q1687,737.5 1696,737 Q1705.5,736 1705.8,719" fill="none" stroke="#1d1d1b" stroke-width="5" stroke-linecap="round" stroke-linejoin="round"/>
<ellipse cx="1685.0" cy="695.0" rx="5.0" ry="2.2" fill="#b98ac2" transform="rotate(10 1685.0 695.0)"/>
<path d="M1745.7,727.7 Q1747,737.5 1756.1,737.1 Q1766,736 1766.5,718.3" fill="none" stroke="#1d1d1b" stroke-width="5" stroke-linecap="round" stroke-linejoin="round"/>
<line x1="2046.7" y1="830.0" x2="2047.6" y2="870.5" stroke="#1d1d1b" stroke-width="5" stroke-linecap="round"/>
<line x1="2064.6" y1="830.0" x2="2086.0" y2="864.3" stroke="#1d1d1b" stroke-width="5" stroke-linecap="round"/>
<path d="M2084.6,807 Q2097,818 2100,832" fill="none" stroke="#1d1d1b" stroke-width="5" stroke-linecap="round" stroke-linejoin="round"/>
<circle cx="2063.3" cy="756.7" r="15.8" fill="#dcb8dd"/>
<circle cx="2030.7" cy="762.8" r="16.8" fill="#dcb8dd"/>
<circle cx="2016.3" cy="795.8" r="13.4" fill="#dcb8dd"/>
<circle cx="2032.7" cy="814.7" r="12.4" fill="#dcb8dd"/>
<circle cx="2054.7" cy="821.3" r="15.3" fill="#dcb8dd"/>
<circle cx="2070.9" cy="807.2" r="14.4" fill="#dcb8dd"/>
<circle cx="2048.0" cy="788.2" r="28.1" fill="#dcb8dd"/>
<circle cx="2072.1" cy="778.9" r="14.1" fill="#dcb8dd"/>
<circle cx="2019.3" cy="776.3" r="14.1" fill="#dcb8dd"/>
<circle cx="2046.6" cy="761.4" r="16.5" fill="#dcb8dd"/>
<circle cx="2040.0" cy="800.5" r="24.8" fill="#dcb8dd"/>
<line x1="2036.8" y1="747.0" x2="2034.1" y2="741.2" stroke="#ecd4ec" stroke-width="1.7600000000000002" stroke-linecap="round"/>
<line x1="2040.0" y1="747.0" x2="2040.0" y2="740.6" stroke="#ecd4ec" stroke-width="1.7600000000000002" stroke-linecap="round"/>
<line x1="2043.2" y1="747.0" x2="2045.9" y2="741.2" stroke="#ecd4ec" stroke-width="1.7600000000000002" stroke-linecap="round"/>
<line x1="2062.0" y1="752.0" x2="2062.6" y2="758.4" stroke="#b48fbd" stroke-width="1.7600000000000002" stroke-linecap="round"/>
<line x1="2065.7" y1="752.6" x2="2066.3" y2="758.4" stroke="#b48fbd" stroke-width="1.7600000000000002" stroke-linecap="round"/>
<line x1="2069.4" y1="752.0" x2="2070.0" y2="759.6" stroke="#b48fbd" stroke-width="1.7600000000000002" stroke-linecap="round"/>
<line x1="2029.0" y1="792.0" x2="2029.6" y2="798.4" stroke="#b48fbd" stroke-width="1.7600000000000002" stroke-linecap="round"/>
<line x1="2032.7" y1="792.6" x2="2033.3" y2="798.4" stroke="#b48fbd" stroke-width="1.7600000000000002" stroke-linecap="round"/>
<line x1="2036.4" y1="792.0" x2="2037.0" y2="799.6" stroke="#b48fbd" stroke-width="1.7600000000000002" stroke-linecap="round"/>
<line x1="2043.0" y1="810.0" x2="2043.6" y2="816.4" stroke="#b48fbd" stroke-width="1.7600000000000002" stroke-linecap="round"/>
<line x1="2046.7" y1="810.6" x2="2047.3" y2="816.4" stroke="#b48fbd" stroke-width="1.7600000000000002" stroke-linecap="round"/>
<line x1="2050.4" y1="810.0" x2="2051.0" y2="817.6" stroke="#b48fbd" stroke-width="1.7600000000000002" stroke-linecap="round"/>
<line x1="2064.0" y1="773.8" x2="2073.7" y2="773.8" stroke="#1d1d1b" stroke-width="3.44" stroke-linecap="round"/>
<circle cx="2050.2" cy="773.8" r="13.8" fill="#fff" stroke="#1d1d1b" stroke-width="4.3"/>
<circle cx="2087.5" cy="773.8" r="13.8" fill="#fff" stroke="#1d1d1b" stroke-width="4.3"/>
<path d="M2036.4,773.8 L2004.9,770.5 Q1996.9,770.5 1996.9,778.5" fill="none" stroke="#1d1d1b" stroke-width="3.44" stroke-linecap="round" stroke-linejoin="round"/>
<circle cx="2052.2" cy="767.2" r="4.4" fill="#1d1d1b"/>
<circle cx="2091.6" cy="768.3" r="4.4" fill="#1d1d1b"/>
<path d="M2064.2,787.5 H2072.2 Q2071.5,794.5 2068.2,794.5 Q2065,794.5 2064.2,787.5Z" fill="#1d1d1b"/>
<path d="M2019.1,789.9 Q2014,738 2052.2,717.8" fill="none" stroke="#1d1d1b" stroke-width="4.6" stroke-linecap="round" stroke-linejoin="round"/>
<ellipse cx="2017.0" cy="790.0" rx="5.5" ry="2.2" fill="#b98ac2" transform="rotate(10 2017.0 790.0)"/>
<line x1="2584.0" y1="784.0" x2="2584.0" y2="824.5" stroke="#1d1d1b" stroke-width="5" stroke-linecap="round"/>
<line x1="2596.0" y1="784.0" x2="2596.0" y2="824.5" stroke="#1d1d1b" stroke-width="5" stroke-linecap="round"/>
<circle cx="2580.6" cy="708.0" r="15.5" fill="#dcb8dd"/>
<circle cx="2612.6" cy="714.1" r="16.4" fill="#dcb8dd"/>
<circle cx="2626.7" cy="747.3" r="13.1" fill="#dcb8dd"/>
<circle cx="2610.7" cy="766.4" r="12.2" fill="#dcb8dd"/>
<circle cx="2589.1" cy="773.0" r="15.0" fill="#dcb8dd"/>
<circle cx="2573.2" cy="758.8" r="14.1" fill="#dcb8dd"/>
<circle cx="2595.6" cy="739.7" r="27.5" fill="#dcb8dd"/>
<circle cx="2572.0" cy="730.3" r="13.8" fill="#dcb8dd"/>
<circle cx="2623.7" cy="727.7" r="13.8" fill="#dcb8dd"/>
<circle cx="2597.0" cy="712.7" r="16.2" fill="#dcb8dd"/>
<circle cx="2603.5" cy="752.1" r="24.3" fill="#dcb8dd"/>
<line x1="2599.8" y1="699.0" x2="2597.1" y2="693.2" stroke="#ecd4ec" stroke-width="1.7600000000000002" stroke-linecap="round"/>
<line x1="2603.0" y1="699.0" x2="2603.0" y2="692.6" stroke="#ecd4ec" stroke-width="1.7600000000000002" stroke-linecap="round"/>
<line x1="2606.2" y1="699.0" x2="2608.9" y2="693.2" stroke="#ecd4ec" stroke-width="1.7600000000000002" stroke-linecap="round"/>
<line x1="2577.0" y1="705.0" x2="2577.6" y2="711.4" stroke="#b48fbd" stroke-width="1.7600000000000002" stroke-linecap="round"/>
<line x1="2580.7" y1="705.6" x2="2581.3" y2="711.4" stroke="#b48fbd" stroke-width="1.7600000000000002" stroke-linecap="round"/>
<line x1="2584.4" y1="705.0" x2="2585.0" y2="712.6" stroke="#b48fbd" stroke-width="1.7600000000000002" stroke-linecap="round"/>
<line x1="2607.0" y1="745.0" x2="2607.6" y2="751.4" stroke="#b48fbd" stroke-width="1.7600000000000002" stroke-linecap="round"/>
<line x1="2610.7" y1="745.6" x2="2611.3" y2="751.4" stroke="#b48fbd" stroke-width="1.7600000000000002" stroke-linecap="round"/>
<line x1="2614.4" y1="745.0" x2="2615.0" y2="752.6" stroke="#b48fbd" stroke-width="1.7600000000000002" stroke-linecap="round"/>
<line x1="2593.0" y1="762.0" x2="2593.6" y2="768.4" stroke="#b48fbd" stroke-width="1.7600000000000002" stroke-linecap="round"/>
<line x1="2596.7" y1="762.6" x2="2597.3" y2="768.4" stroke="#b48fbd" stroke-width="1.7600000000000002" stroke-linecap="round"/>
<line x1="2600.4" y1="762.0" x2="2601.0" y2="769.6" stroke="#b48fbd" stroke-width="1.7600000000000002" stroke-linecap="round"/>
<path d="M2558.4,753.6 Q2535,752 2513.6,741" fill="none" stroke="#1d1d1b" stroke-width="5.4" stroke-linecap="round" stroke-linejoin="round"/>
<line x1="2570.2" y1="726.0" x2="2580.3" y2="726.0" stroke="#1d1d1b" stroke-width="3.44" stroke-linecap="round"/>
<circle cx="2556.4" cy="726.0" r="13.8" fill="#fff" stroke="#1d1d1b" stroke-width="4.3"/>
<circle cx="2594.1" cy="726.0" r="13.8" fill="#fff" stroke="#1d1d1b" stroke-width="4.3"/>
<path d="M2607.9,726.0 L2638.5,723.5 Q2646.5,723.5 2646.5,731.5" fill="none" stroke="#1d1d1b" stroke-width="3.44" stroke-linecap="round" stroke-linejoin="round"/>
<circle cx="2555.8" cy="726.6" r="3.7" fill="#1d1d1b"/>
<circle cx="2594.0" cy="726.6" r="3.7" fill="#1d1d1b"/>
<path d="M2570.5,740.5 Q2574.4,744.5 2578.5,740.5" fill="none" stroke="#1d1d1b" stroke-width="2" stroke-linecap="round" stroke-linejoin="round"/>
<path d="M2624.7,746 V768 Q2623,779 2613,777.5 Q2605,776 2606,765" fill="none" stroke="#1d1d1b" stroke-width="5" stroke-linecap="round" stroke-linejoin="round"/>
<ellipse cx="2623.0" cy="743.5" rx="5.5" ry="2.2" fill="#b98ac2" transform="rotate(-15 2623.0 743.5)"/>
<path d="M2642,516 C2662,560 2668,600 2690,630 C2712,672 2745,718 2806,752" fill="none" stroke="#ffd466" stroke-width="12.5" stroke-linecap="round" stroke-linejoin="round"/>
<path d="M2800,517 H2600 C2560,514 2546,530 2548,548 C2551,572 2580,578 2588,556 C2592,545 2586,538 2579.5,537" fill="none" stroke="#ffd466" stroke-width="10.5" stroke-linecap="round" stroke-linejoin="round"/>
<line x1="2746.0" y1="516.0" x2="2746.0" y2="716.0" stroke="#ffd466" stroke-width="11" stroke-linecap="butt"/>
<line x1="2692.0" y1="621.0" x2="2806.0" y2="621.0" stroke="#ffd466" stroke-width="12.5" stroke-linecap="butt"/>
<path d="M2370.4,456 V322 C2371,262 2400,210 2476,171 H2661.8 C2718,210 2748,262 2748.8,322 V456 Z" fill="#9bd4e8"/>
<path d="M2482,152 V88 C2483,55 2503,32 2538,24 H2598 C2622,32 2640.5,55 2641.5,88 V152 Z" fill="#64c2e0"/>
<path d="M2544.4,29 V19 Q2544.4,13 2551,13 H2585 Q2591.6,13 2591.6,19 V29 Z" fill="#8ed0e6"/>
<rect x="2550.0" y="24.0" width="36.0" height="2.5" rx="1" fill="#64c2e0"/>
<path d="M2495,130 C2492,90 2496,62 2508,48" fill="none" stroke="#8ed0e6" stroke-width="2.5" stroke-linecap="round" stroke-linejoin="round"/>
<rect x="2474.8" y="146.4" width="187.0" height="26.0" rx="6" fill="#9bd4e8"/>
<line x1="2507.0" y1="148.0" x2="2507.0" y2="160.0" stroke="#64c2e0" stroke-width="1.6" stroke-linecap="round"/>
<line x1="2580.0" y1="148.0" x2="2580.0" y2="160.0" stroke="#64c2e0" stroke-width="1.6" stroke-linecap="round"/>
<path d="M2474.8,171 Q2566,146 2661.8,162 V247 C2661,290 2620,321 2566,321 C2512,321 2483,290 2482,252 Z" fill="#1d1d1b"/>
<clipPath id="win"><path d="M2474.8,171 Q2566,146 2661.8,162 V247 C2661,290 2620,321 2566,321 C2512,321 2483,290 2482,252 Z"/></clipPath>
<g clip-path="url(#win)">
<path d="M2470,262 Q2498,241 2528,257 Q2562,230 2600,255 Q2632,238 2668,258 V330 H2470 Z" fill="#fff"/>
<ellipse cx="2589.7" cy="299.0" rx="5.2" ry="1.6" fill="#fbe9b0" transform="rotate(41 2589.7 299.0)"/>
<ellipse cx="2640.8" cy="298.9" rx="5.2" ry="1.6" fill="#fbe9b0" transform="rotate(59 2640.8 298.9)"/>
<ellipse cx="2494.6" cy="283.0" rx="5.2" ry="1.6" fill="#fbe9b0" transform="rotate(62 2494.6 283.0)"/>
<ellipse cx="2593.8" cy="308.3" rx="5.2" ry="1.6" fill="#fbe9b0" transform="rotate(-54 2593.8 308.3)"/>
<ellipse cx="2565.1" cy="270.3" rx="5.2" ry="1.6" fill="#fbe9b0" transform="rotate(6 2565.1 270.3)"/>
<ellipse cx="2581.8" cy="256.8" rx="5.2" ry="1.6" fill="#fbe9b0" transform="rotate(-40 2581.8 256.8)"/>
<ellipse cx="2534.7" cy="309.1" rx="5.2" ry="1.6" fill="#fbe9b0" transform="rotate(37 2534.7 309.1)"/>
<ellipse cx="2515.5" cy="302.2" rx="5.2" ry="1.6" fill="#fbe9b0" transform="rotate(-51 2515.5 302.2)"/>
<ellipse cx="2588.8" cy="263.3" rx="5.2" ry="1.6" fill="#fbe9b0" transform="rotate(-70 2588.8 263.3)"/>
<ellipse cx="2629.4" cy="268.1" rx="5.2" ry="1.6" fill="#fbe9b0" transform="rotate(-40 2629.4 268.1)"/>
<ellipse cx="2647.2" cy="306.6" rx="5.2" ry="1.6" fill="#fbe9b0" transform="rotate(-29 2647.2 306.6)"/>
<ellipse cx="2643.8" cy="287.3" rx="5.2" ry="1.6" fill="#fbe9b0" transform="rotate(25 2643.8 287.3)"/>
<ellipse cx="2522.8" cy="310.6" rx="5.2" ry="1.6" fill="#fbe9b0" transform="rotate(27 2522.8 310.6)"/>
<ellipse cx="2644.7" cy="307.8" rx="5.2" ry="1.6" fill="#fbe9b0" transform="rotate(-28 2644.7 307.8)"/>
<ellipse cx="2547.8" cy="265.6" rx="5.2" ry="1.6" fill="#fbe9b0" transform="rotate(-50 2547.8 265.6)"/>
<ellipse cx="2500.4" cy="273.5" rx="5.2" ry="1.6" fill="#fbe9b0" transform="rotate(14 2500.4 273.5)"/>
<ellipse cx="2490.5" cy="295.3" rx="5.2" ry="1.6" fill="#fbe9b0" transform="rotate(-23 2490.5 295.3)"/>
<ellipse cx="2539.6" cy="303.5" rx="5.2" ry="1.6" fill="#fbe9b0" transform="rotate(-3 2539.6 303.5)"/>
<ellipse cx="2540.5" cy="283.9" rx="5.2" ry="1.6" fill="#fbe9b0" transform="rotate(29 2540.5 283.9)"/>
<ellipse cx="2499.1" cy="312.6" rx="5.2" ry="1.6" fill="#fbe9b0" transform="rotate(-67 2499.1 312.6)"/>
<ellipse cx="2610.0" cy="305.0" rx="5.2" ry="1.6" fill="#fbe9b0" transform="rotate(-67 2610.0 305.0)"/>
<ellipse cx="2616.0" cy="277.2" rx="5.2" ry="1.6" fill="#fbe9b0" transform="rotate(11 2616.0 277.2)"/>
<ellipse cx="2491.5" cy="258.7" rx="5.2" ry="1.6" fill="#fbe9b0" transform="rotate(-45 2491.5 258.7)"/>
<ellipse cx="2642.8" cy="267.4" rx="5.2" ry="1.6" fill="#fbe9b0" transform="rotate(36 2642.8 267.4)"/>
<ellipse cx="2638.7" cy="310.6" rx="5.2" ry="1.6" fill="#fbe9b0" transform="rotate(-22 2638.7 310.6)"/>
<ellipse cx="2546.8" cy="286.4" rx="5.2" ry="1.6" fill="#fbe9b0" transform="rotate(39 2546.8 286.4)"/>
<ellipse cx="2507.3" cy="299.4" rx="5.2" ry="1.6" fill="#fbe9b0" transform="rotate(42 2507.3 299.4)"/>
<ellipse cx="2627.6" cy="258.1" rx="5.2" ry="1.6" fill="#fbe9b0" transform="rotate(62 2627.6 258.1)"/>
<ellipse cx="2504.6" cy="275.8" rx="5.2" ry="1.6" fill="#fbe9b0" transform="rotate(16 2504.6 275.8)"/>
<ellipse cx="2636.9" cy="275.7" rx="5.2" ry="1.6" fill="#fbe9b0" transform="rotate(59 2636.9 275.7)"/>
<ellipse cx="2577.2" cy="274.1" rx="5.2" ry="1.6" fill="#fbe9b0" transform="rotate(-26 2577.2 274.1)"/>
<ellipse cx="2518.4" cy="260.5" rx="5.2" ry="1.6" fill="#fbe9b0" transform="rotate(-49 2518.4 260.5)"/>
<ellipse cx="2600.3" cy="313.8" rx="5.2" ry="1.6" fill="#fbe9b0" transform="rotate(-47 2600.3 313.8)"/>
<ellipse cx="2497.8" cy="313.2" rx="5.2" ry="1.6" fill="#fbe9b0" transform="rotate(5 2497.8 313.2)"/>
</g>
<rect x="2639.5" y="0.0" width="14.5" height="259.0" rx="0" fill="#cfe3f7"/>
<path d="M2639.5,255 V262 Q2643,268 2654,262 V255Z" fill="#cfe3f7"/>
<path d="M-4.8,0 C-4.8,-1.2 -1.4,-2.2 2.6,-2.2 A2.2,2.2 0 0 1 2.6,2.2 C-1.4,2.2 -4.8,1.2 -4.8,0Z" fill="#fff" transform="translate(2572.7 65.1) rotate(55)"/>
<rect x="2500.8" y="114.8" width="13.5" height="6.1" rx="3.1" fill="#fff" transform="rotate(40 2507.6 117.9)"/>
<path d="M-5.1,0 C-5.1,-1.1 -1.5,-2.0 3.1,-2.0 A2.0,2.0 0 0 1 3.1,2.0 C-1.5,2.0 -5.1,1.1 -5.1,0Z" fill="#fff" transform="translate(2632.9 147.2) rotate(93)"/>
<path d="M-6.6,0 C-6.6,-1.7 -2.0,-3.1 3.5,-3.1 A3.1,3.1 0 0 1 3.5,3.1 C-2.0,3.1 -6.6,1.7 -6.6,0Z" fill="#fff" transform="translate(2554.5 4.2) rotate(128)"/>
<rect x="2535.0" y="63.7" width="11.5" height="4.3" rx="2.2" fill="#fff" transform="rotate(70 2540.8 65.9)"/>
<rect x="2542.6" y="27.9" width="17.2" height="5.4" rx="2.7" fill="#fff" transform="rotate(78 2551.2 30.6)"/>
<rect x="2557.0" y="134.3" width="9.4" height="3.5" rx="1.7" fill="#fff" transform="rotate(121 2561.7 136.1)"/>
<path d="M-4.2,0 C-4.2,-1.1 -1.3,-2.0 2.2,-2.0 A2.0,2.0 0 0 1 2.2,2.0 C-1.3,2.0 -4.2,1.1 -4.2,0Z" fill="#fff" transform="translate(2607.6 46.6) rotate(42)"/>
<rect x="2550.5" y="79.2" width="17.0" height="4.9" rx="2.5" fill="#fff" transform="rotate(48 2559.0 81.7)"/>
<rect x="2533.4" y="117.6" width="8.7" height="3.8" rx="1.9" fill="#fff" transform="rotate(106 2537.8 119.5)"/>
<path d="M-7.2,0 C-7.2,-1.9 -2.2,-3.4 3.8,-3.4 A3.4,3.4 0 0 1 3.8,3.4 C-2.2,3.4 -7.2,1.9 -7.2,0Z" fill="#fff" transform="translate(2588.1 10.6) rotate(68)"/>
<rect x="2525.9" y="83.4" width="9.3" height="3.9" rx="2.0" fill="#fff" transform="rotate(88 2530.6 85.3)"/>
<rect x="2609.0" y="80.9" width="13.8" height="6.3" rx="3.2" fill="#fff" transform="rotate(62 2615.9 84.1)"/>
<path d="M-5.5,0 C-5.5,-1.2 -1.7,-2.3 3.3,-2.3 A2.3,2.3 0 0 1 3.3,2.3 C-1.7,2.3 -5.5,1.2 -5.5,0Z" fill="#fff" transform="translate(2522.3 140.8) rotate(46)"/>
<path d="M-8.8,0 C-8.8,-1.8 -2.6,-3.2 5.6,-3.2 A3.2,3.2 0 0 1 5.6,3.2 C-2.6,3.2 -8.8,1.8 -8.8,0Z" fill="#fff" transform="translate(2580.7 32.0) rotate(54)"/>
<path d="M-9.0,0 C-9.0,-1.5 -2.7,-2.8 6.2,-2.8 A2.8,2.8 0 0 1 6.2,2.8 C-2.7,2.8 -9.0,1.5 -9.0,0Z" fill="#fff" transform="translate(2582.5 127.1) rotate(65)"/>
<path d="M-7.5,0 C-7.5,-1.7 -2.3,-3.2 4.3,-3.2 A3.2,3.2 0 0 1 4.3,3.2 C-2.3,3.2 -7.5,1.7 -7.5,0Z" fill="#fff" transform="translate(2517.0 64.1) rotate(75)"/>
<path d="M-4.2,0 C-4.2,-1.1 -1.3,-1.9 2.3,-1.9 A1.9,1.9 0 0 1 2.3,1.9 C-1.3,1.9 -4.2,1.1 -4.2,0Z" fill="#fff" transform="translate(2593.5 96.8) rotate(135)"/>
<rect x="2624.4" y="100.9" width="16.5" height="5.5" rx="2.8" fill="#fff" transform="rotate(70 2632.6 103.7)"/>
<rect x="2496.3" y="146.8" width="17.1" height="6.3" rx="3.2" fill="#fff" transform="rotate(112 2504.8 149.9)"/>
<path d="M-5.6,0 C-5.6,-1.1 -1.7,-2.1 3.6,-2.1 A2.1,2.1 0 0 1 3.6,2.1 C-1.7,2.1 -5.6,1.1 -5.6,0Z" fill="#fff" transform="translate(2565.6 103.2) rotate(68)"/>
<rect x="2525.7" y="41.0" width="17.6" height="6.2" rx="3.1" fill="#fff" transform="rotate(140 2534.5 44.1)"/>
<rect x="2590.3" y="136.7" width="15.5" height="5.8" rx="2.9" fill="#fff" transform="rotate(76 2598.0 139.6)"/>
<path d="M-6.7,0 C-6.7,-1.7 -2.0,-3.0 3.7,-3.0 A3.0,3.0 0 0 1 3.7,3.0 C-2.0,3.0 -6.7,1.7 -6.7,0Z" fill="#fff" transform="translate(2617.2 136.0) rotate(120)"/>
<path d="M-5.2,0 C-5.2,-1.4 -1.6,-2.5 2.7,-2.5 A2.5,2.5 0 0 1 2.7,2.5 C-1.6,2.5 -5.2,1.4 -5.2,0Z" fill="#fff" transform="translate(2594.0 75.1) rotate(139)"/>
<path d="M-4.2,0 C-4.2,-1.2 -1.3,-2.2 2.0,-2.2 A2.2,2.2 0 0 1 2.0,2.2 C-1.3,2.2 -4.2,1.2 -4.2,0Z" fill="#fff" transform="translate(2509.1 91.1) rotate(57)"/>
<rect x="2550.6" y="50.7" width="13.9" height="5.0" rx="2.5" fill="#fff" transform="rotate(105 2557.5 53.2)"/>
<rect x="2568.1" y="-4.9" width="8.6" height="3.9" rx="2.0" fill="#fff" transform="rotate(80 2572.4 -2.9)"/>
<rect x="2607.9" y="107.4" width="13.7" height="6.1" rx="3.1" fill="#fff" transform="rotate(120 2614.8 110.4)"/>
<path d="M-8.6,0 C-8.6,-1.9 -2.6,-3.5 5.0,-3.5 A3.5,3.5 0 0 1 5.0,3.5 C-2.6,3.5 -8.6,1.9 -8.6,0Z" fill="#fff" transform="translate(2540.9 148.3) rotate(76)"/>
<path d="M-8.2,0 C-8.2,-1.8 -2.4,-3.2 4.9,-3.2 A3.2,3.2 0 0 1 4.9,3.2 C-2.4,3.2 -8.2,1.8 -8.2,0Z" fill="#fff" transform="translate(2540.6 204.1) rotate(36)"/>
<rect x="2603.3" y="181.4" width="18.5" height="5.5" rx="2.8" fill="#fff" transform="rotate(87 2612.5 184.2)"/>
<rect x="2583.2" y="174.6" width="11.0" height="4.0" rx="2.0" fill="#fff" transform="rotate(109 2588.7 176.5)"/>
<rect x="2515.2" y="217.3" width="9.1" height="3.5" rx="1.7" fill="#fff" transform="rotate(87 2519.7 219.1)"/>
<rect x="2592.6" y="225.6" width="11.2" height="3.8" rx="1.9" fill="#fff" transform="rotate(84 2598.3 227.5)"/>
<rect x="2617.4" y="225.0" width="13.7" height="5.1" rx="2.5" fill="#fff" transform="rotate(83 2624.3 227.5)"/>
<rect x="2564.8" y="190.1" width="16.2" height="5.7" rx="2.9" fill="#fff" transform="rotate(110 2572.9 193.0)"/>
<path d="M-8.8,0 C-8.8,-1.7 -2.6,-3.2 5.6,-3.2 A3.2,3.2 0 0 1 5.6,3.2 C-2.6,3.2 -8.8,1.7 -8.8,0Z" fill="#fff" transform="translate(2580.3 216.0) rotate(42)"/>
<path d="M-8.6,0 C-8.6,-1.9 -2.6,-3.5 5.1,-3.5 A3.5,3.5 0 0 1 5.1,3.5 C-2.6,3.5 -8.6,1.9 -8.6,0Z" fill="#fff" transform="translate(2561.3 176.6) rotate(103)"/>
<path d="M-4.9,0 C-4.9,-1.4 -1.5,-2.5 2.4,-2.5 A2.5,2.5 0 0 1 2.4,2.5 C-1.5,2.5 -4.9,1.4 -4.9,0Z" fill="#fff" transform="translate(2551.7 227.7) rotate(43)"/>
<path d="M-8.5,0 C-8.5,-1.6 -2.5,-2.8 5.6,-2.8 A2.8,2.8 0 0 1 5.6,2.8 C-2.5,2.8 -8.5,1.6 -8.5,0Z" fill="#fff" transform="translate(2624.9 201.5) rotate(143)"/>
<rect x="2509.3" y="193.0" width="8.1" height="4.1" rx="2.0" fill="#fff" transform="rotate(42 2513.4 195.1)"/>
<path d="M-5.7,0 C-5.7,-1.1 -1.7,-2.1 3.6,-2.1 A2.1,2.1 0 0 1 3.6,2.1 C-1.7,2.1 -5.7,1.1 -5.7,0Z" fill="#fff" transform="translate(2514.7 170.2) rotate(100)"/>
<path d="M-8.4,0 C-8.4,-1.5 -2.5,-2.7 5.7,-2.7 A2.7,2.7 0 0 1 5.7,2.7 C-2.5,2.7 -8.4,1.5 -8.4,0Z" fill="#fff" transform="translate(2540.6 179.1) rotate(72)"/>
<path d="M-4.6,0 C-4.6,-1.1 -1.4,-2.0 2.6,-2.0 A2.0,2.0 0 0 1 2.6,2.0 C-1.4,2.0 -4.6,1.1 -4.6,0Z" fill="#fff" transform="translate(2608.9 210.9) rotate(122)"/>
<path d="M-4.8,0 C-4.8,-1.1 -1.4,-2.0 2.8,-2.0 A2.0,2.0 0 0 1 2.8,2.0 C-1.4,2.0 -4.8,1.1 -4.8,0Z" fill="#fff" transform="translate(2596.3 195.4) rotate(111)"/>
<rect x="2547.3" y="316.0" width="46.4" height="16.0" rx="4" fill="#64c2e0"/>
<path d="M2474.8,171 Q2566,146 2661.8,162 V247 C2661,290 2620,321 2566,321 C2512,321 2483,290 2482,252 Z" fill="none"/>
<line x1="2456.0" y1="202.0" x2="2456.0" y2="434.0" stroke="#64c2e0" stroke-width="2.6" stroke-linecap="round"/>
<line x1="2681.5" y1="202.0" x2="2681.5" y2="434.0" stroke="#64c2e0" stroke-width="2.6" stroke-linecap="round"/>
<rect x="2507.6" y="346.4" width="137.4" height="99.0" rx="9" fill="#64c2e0"/>
<rect x="2537.0" y="354.2" width="77.0" height="38.6" rx="8" fill="#1d1d1b"/>
<line x1="2562.0" y1="383.0" x2="2577.0" y2="362.0" stroke="#fff" stroke-width="2" stroke-linecap="round"/>
<line x1="2567.0" y1="381.0" x2="2574.0" y2="371.0" stroke="#fff" stroke-width="1.4" stroke-linecap="round"/>
<rect x="2517.4" y="400.0" width="16.0" height="16.0" rx="3" fill="#f9d465"/>
<circle cx="2525.4" cy="408.0" r="2.2" fill="#3aa6bc"/>
<rect x="2537.7" y="400.0" width="16.0" height="16.0" rx="3" fill="#f9d465"/>
<circle cx="2545.7" cy="408.0" r="2.2" fill="#3aa6bc"/>
<rect x="2558.0" y="400.0" width="16.0" height="16.0" rx="3" fill="#f9d465"/>
<circle cx="2566.0" cy="408.0" r="2.2" fill="#3aa6bc"/>
<rect x="2578.3" y="400.0" width="16.0" height="16.0" rx="3" fill="#f9d465"/>
<circle cx="2586.3" cy="408.0" r="2.2" fill="#3aa6bc"/>
<rect x="2598.6" y="400.0" width="16.0" height="16.0" rx="3" fill="#f9d465"/>
<circle cx="2606.6" cy="408.0" r="2.2" fill="#3aa6bc"/>
<rect x="2618.9" y="400.0" width="16.0" height="16.0" rx="3" fill="#f9d465"/>
<circle cx="2626.9" cy="408.0" r="2.2" fill="#3aa6bc"/>
<rect x="2517.4" y="421.0" width="56.8" height="16.0" rx="3" fill="#f9d465"/>
<rect x="2578.3" y="421.0" width="56.8" height="16.0" rx="3" fill="#f9d465"/>
<line x1="2531.0" y1="429.0" x2="2560.0" y2="429.0" stroke="#3aa6bc" stroke-width="1.8" stroke-linecap="round"/>
<line x1="2595.0" y1="429.0" x2="2622.0" y2="429.0" stroke="#3aa6bc" stroke-width="1.8" stroke-linecap="round"/>
<line x1="2576.2" y1="418.0" x2="2576.2" y2="444.0" stroke="#3aa6bc" stroke-width="1.4" stroke-linecap="round"/>
<path d="M2353,455.5 H2800 V511.5 H2353 A28,28 0 0 1 2353,455.5 Z" fill="#7b4a0a"/>
<rect x="2343.0" y="462.0" width="216.0" height="11.5" rx="5.7" fill="#b5884f"/>
<path d="M2707.5,1126.5 C2709.3,1126.0 2710.2,1125.9 2714.0,1131.0 C2717.8,1136.1 2724.0,1145.2 2730.0,1157.0 C2736.0,1168.8 2744.4,1187.8 2750.0,1202.0 C2755.6,1216.2 2759.5,1230.1 2763.6,1242.5 C2767.7,1254.9 2771.0,1263.5 2774.4,1276.4 C2777.8,1289.3 2781.7,1306.1 2784.0,1320.0 C2786.3,1333.9 2789.0,1343.3 2788.5,1360.0 C2788.0,1376.7 2785.4,1400.0 2781.0,1420.0 C2776.6,1440.0 2770.0,1462.5 2762.0,1480.0 C2754.0,1497.5 2746.3,1514.2 2733.0,1525.0 C2719.7,1535.8 2702.7,1537.8 2682.0,1545.0 C2661.3,1552.2 2627.3,1561.2 2609.0,1568.0 C2590.7,1574.8 2581.2,1578.7 2572.0,1586.0 C2562.8,1593.3 2557.3,1603.0 2554.0,1612.0 C2550.7,1621.0 2564.7,1635.3 2552.0,1640.0 C2539.3,1644.7 2490.5,1643.0 2478.0,1640.0 C2465.5,1637.0 2475.0,1629.0 2477.0,1622.0 C2479.0,1615.0 2481.2,1605.3 2490.0,1598.0 C2498.8,1590.7 2521.0,1583.5 2530.0,1578.0 C2539.0,1572.5 2543.5,1569.0 2544.0,1565.0 C2544.5,1561.0 2540.7,1556.3 2533.0,1554.0 C2525.3,1551.7 2513.5,1551.7 2498.0,1551.0 C2482.5,1550.3 2456.3,1550.8 2440.0,1550.0 C2423.7,1549.2 2412.7,1549.0 2400.0,1546.0 C2387.3,1543.0 2372.8,1538.3 2364.0,1532.0 C2355.2,1525.7 2351.8,1516.0 2347.0,1508.0 C2342.2,1500.0 2338.2,1493.3 2335.5,1484.0 C2332.8,1474.7 2331.5,1462.7 2330.7,1452.0 C2329.9,1441.3 2330.3,1430.7 2330.7,1420.0 C2331.1,1409.3 2331.7,1400.5 2333.0,1388.0 C2334.3,1375.5 2336.0,1358.3 2338.5,1345.0 C2341.0,1331.7 2341.2,1320.8 2348.0,1308.0 C2354.8,1295.2 2364.2,1278.5 2379.0,1268.0 C2393.8,1257.5 2410.8,1250.0 2437.0,1245.0 C2463.2,1240.0 2508.8,1239.0 2536.0,1238.0 C2563.2,1237.0 2582.5,1239.4 2600.0,1239.0 C2617.5,1238.6 2629.6,1237.9 2641.0,1235.7 C2652.4,1233.5 2660.4,1230.5 2668.6,1226.0 C2676.8,1221.5 2684.3,1214.9 2690.0,1208.6 C2695.7,1202.3 2699.7,1194.3 2702.5,1188.0 C2705.3,1181.7 2706.1,1176.9 2706.6,1170.6 C2707.1,1164.3 2706.1,1156.1 2705.5,1150.0 C2704.9,1143.9 2702.7,1137.9 2703.0,1134.0 C2703.3,1130.1 2705.7,1127.0 2707.5,1126.5Z" fill="#c5c7e7"/>
<path d="M2653.6,1198.4 Q2666,1192 2673.3,1182.8" fill="none" stroke="#c9cbe8" stroke-width="4.8" stroke-linecap="round" stroke-linejoin="round"/>
<path d="M2661.8,1212.6 Q2686,1200 2693,1170.6" fill="none" stroke="#c9cbe8" stroke-width="5" stroke-linecap="round" stroke-linejoin="round"/>
<path d="M2343,1300 Q2352,1277 2372,1262" fill="none" stroke="#cbcde9" stroke-width="4.8" stroke-linecap="round" stroke-linejoin="round"/>
<path d="M2566,1598 Q2580,1587 2604,1584" fill="none" stroke="#cbcde9" stroke-width="4.8" stroke-linecap="round" stroke-linejoin="round"/>
<line x1="2591.0" y1="1599.0" x2="2603.0" y2="1594.0" stroke="#cbcde9" stroke-width="4.6" stroke-linecap="round"/>
<path d="M2528.8,1158 V1263" fill="none" stroke="#ffd466" stroke-width="15" stroke-linecap="butt" stroke-linejoin="round"/>
<polygon points="2507.3,1261.4 2529.0,1284.3 2550.7,1261.4" fill="#ffd466"/>
<rect x="2386.9" y="1084.0" width="281.6" height="78.0" rx="22" fill="#ffd466"/>
<text x="2445.4" y="1132.3" font-size="29" textLength="161.1" lengthAdjust="spacingAndGlyphs" fill="#1b1b1f">Stop cooking</text>
<text x="2399.0" y="1319.9" font-size="29" textLength="271.4" lengthAdjust="spacingAndGlyphs" fill="#1b1b1f">The result is a bowl of</text>
<text x="2396.8" y="1358.6" font-size="29" textLength="276.8" lengthAdjust="spacingAndGlyphs" fill="#1b1b1f">fluffy rice. Rice cookers</text>
<text x="2383.0" y="1396.0" font-size="29" textLength="304.0" lengthAdjust="spacingAndGlyphs" fill="#1b1b1f">like these can adjust the</text>
<text x="2390.0" y="1433.6" font-size="29" textLength="288.3" lengthAdjust="spacingAndGlyphs" fill="#1b1b1f">temperature gradually,</text>
<text x="2389.3" y="1471.9" font-size="29" textLength="292.2" lengthAdjust="spacingAndGlyphs" fill="#1b1b1f">more reliably even than</text>
<text x="2445.4" y="1509.4" font-size="29" textLength="178.4" lengthAdjust="spacingAndGlyphs" fill="#1b1b1f">a human chef.</text>
<rect x="1481.5" y="1001.4" width="819.7" height="757.8" rx="24" fill="#9bd4e8"/>
<circle cx="2266.8" cy="1450.8" r="19.1" fill="#dcb8dd"/>
<circle cx="2306.3" cy="1458.9" r="20.3" fill="#dcb8dd"/>
<circle cx="2323.7" cy="1503.1" r="16.2" fill="#dcb8dd"/>
<circle cx="2303.9" cy="1528.5" r="15.0" fill="#dcb8dd"/>
<circle cx="2277.3" cy="1537.2" r="18.5" fill="#dcb8dd"/>
<circle cx="2257.6" cy="1518.4" r="17.4" fill="#dcb8dd"/>
<circle cx="2285.3" cy="1493.0" r="34.0" fill="#dcb8dd"/>
<circle cx="2256.2" cy="1480.5" r="17.0" fill="#dcb8dd"/>
<circle cx="2320.0" cy="1477.0" r="17.0" fill="#dcb8dd"/>
<circle cx="2287.0" cy="1457.0" r="20.0" fill="#dcb8dd"/>
<circle cx="2295.0" cy="1509.5" r="30.0" fill="#dcb8dd"/>
<line x1="2322.0" y1="1440.0" x2="2322.8" y2="1448.0" stroke="#a77fb5" stroke-width="2.2" stroke-linecap="round"/>
<line x1="2326.6" y1="1440.8" x2="2327.4" y2="1448.0" stroke="#a77fb5" stroke-width="2.2" stroke-linecap="round"/>
<line x1="2331.2" y1="1440.0" x2="2332.0" y2="1449.5" stroke="#a77fb5" stroke-width="2.2" stroke-linecap="round"/>
<line x1="2270.0" y1="1530.0" x2="2270.8" y2="1538.0" stroke="#a77fb5" stroke-width="2.2" stroke-linecap="round"/>
<line x1="2274.6" y1="1530.8" x2="2275.4" y2="1538.0" stroke="#a77fb5" stroke-width="2.2" stroke-linecap="round"/>
<line x1="2279.2" y1="1530.0" x2="2280.0" y2="1539.5" stroke="#a77fb5" stroke-width="2.2" stroke-linecap="round"/>
<path d="M2293,1388 L2291.4,1451 H2326.7 L2325,1388 Z" fill="#fff"/>
<line x1="2300.0" y1="1402.0" x2="2300.8" y2="1440.0" stroke="#e1e4ee" stroke-width="2" stroke-linecap="round"/>
<line x1="2307.5" y1="1402.0" x2="2308.3" y2="1440.0" stroke="#e1e4ee" stroke-width="2" stroke-linecap="round"/>
<line x1="2315.0" y1="1402.0" x2="2315.8" y2="1440.0" stroke="#e1e4ee" stroke-width="2" stroke-linecap="round"/>
<ellipse cx="2285.0" cy="1375.0" rx="17.0" ry="15.3" fill="#fff"/>
<ellipse cx="2309.0" cy="1370.0" rx="18.0" ry="16.2" fill="#fff"/>
<ellipse cx="2333.0" cy="1376.0" rx="17.0" ry="15.3" fill="#fff"/>
<ellipse cx="2309.0" cy="1381.0" rx="13.0" ry="11.7" fill="#fff"/>
<path d="M2279,1379 Q2287,1388 2296,1381 M2301,1381 Q2310,1390 2320,1381 M2324,1381 Q2332,1388 2339,1379" fill="none" stroke="#dfe3ea" stroke-width="2" stroke-linecap="round" stroke-linejoin="round"/>
<rect x="1509.3" y="1029.4" width="756.0" height="208.3" rx="34" fill="#64c2e0"/>
<rect x="1509.3" y="1380.3" width="755.7" height="254.7" rx="34" fill="#64c2e0"/>
<path d="M2244,1382.5 Q2268,1396 2268,1430" fill="none" stroke="#1d1d1b" stroke-width="5.6" stroke-linecap="round" stroke-linejoin="round"/>
<line x1="2311.5" y1="1487.6" x2="2322.3" y2="1493.9" stroke="#1d1d1b" stroke-width="4.4799999999999995" stroke-linecap="round"/>
<circle cx="2295.8" cy="1478.5" r="18.1" fill="#fff" stroke="#1d1d1b" stroke-width="5.6"/>
<circle cx="2338.0" cy="1503.0" r="18.1" fill="#fff" stroke="#1d1d1b" stroke-width="5.6"/>
<line x1="2265.5" y1="1467.0" x2="2279.0" y2="1473.0" stroke="#1d1d1b" stroke-width="4" stroke-linecap="round"/>
<path d="M2288.5,1483 Q2291,1472.5 2301,1476 " fill="none" stroke="#1d1d1b" stroke-width="3.6" stroke-linecap="round" stroke-linejoin="round"/>
<path d="M2331.5,1507 Q2334,1497 2344,1500.5" fill="none" stroke="#1d1d1b" stroke-width="3.6" stroke-linecap="round" stroke-linejoin="round"/>
<path d="M2297,1512 L2312,1519 Q2308,1530 2300,1527 Q2294,1523 2297,1512Z" fill="#1d1d1b"/>
<path d="M2288.5,1553 Q2287,1583 2301,1583.5 Q2312,1582 2320.2,1562" fill="none" stroke="#1d1d1b" stroke-width="6" stroke-linecap="round" stroke-linejoin="round"/>
<line x1="1551.8" y1="1125.3" x2="2230.4" y2="1125.3" stroke="#1d1d1b" stroke-width="9.6" stroke-linecap="butt"/>
<line x1="1551.8" y1="1057.3" x2="1551.8" y2="1154.3" stroke="#1d1d1b" stroke-width="8.4" stroke-linecap="round"/>
<line x1="2230.4" y1="1057.3" x2="2230.4" y2="1154.3" stroke="#1d1d1b" stroke-width="8.4" stroke-linecap="round"/>
<line x1="1721.4" y1="1089.8" x2="1721.4" y2="1149.3" stroke="#1d1d1b" stroke-width="8.4" stroke-linecap="round"/>
<line x1="1891.0" y1="1089.8" x2="1891.0" y2="1149.3" stroke="#1d1d1b" stroke-width="8.4" stroke-linecap="round"/>
<line x1="2060.6" y1="1089.8" x2="2060.6" y2="1149.3" stroke="#1d1d1b" stroke-width="8.4" stroke-linecap="round"/>
<line x1="1551.8" y1="1499.4" x2="2230.4" y2="1499.4" stroke="#1d1d1b" stroke-width="9.6" stroke-linecap="butt"/>
<line x1="1551.8" y1="1431.4" x2="1551.8" y2="1528.4" stroke="#1d1d1b" stroke-width="8.4" stroke-linecap="round"/>
<line x1="2230.4" y1="1431.4" x2="2230.4" y2="1528.4" stroke="#1d1d1b" stroke-width="8.4" stroke-linecap="round"/>
<line x1="1721.4" y1="1463.9" x2="1721.4" y2="1523.4" stroke="#1d1d1b" stroke-width="8.4" stroke-linecap="round"/>
<line x1="1891.0" y1="1463.9" x2="1891.0" y2="1523.4" stroke="#1d1d1b" stroke-width="8.4" stroke-linecap="round"/>
<line x1="2060.6" y1="1463.9" x2="2060.6" y2="1523.4" stroke="#1d1d1b" stroke-width="8.4" stroke-linecap="round"/>
<rect x="1799.0" y="1079.3" width="48.0" height="91.7" rx="24.0" fill="#6fb52c"/>
<line x1="1814.4" y1="1091.3" x2="1831.6" y2="1091.3" stroke="#4f9a2e" stroke-width="2.4" stroke-linecap="round"/>
<line x1="1808.1" y1="1101.0" x2="1837.9" y2="1101.0" stroke="#4f9a2e" stroke-width="2.4" stroke-linecap="round"/>
<line x1="1808.1" y1="1110.6" x2="1837.9" y2="1110.6" stroke="#4f9a2e" stroke-width="2.4" stroke-linecap="round"/>
<line x1="1808.1" y1="1120.3" x2="1837.9" y2="1120.3" stroke="#4f9a2e" stroke-width="2.4" stroke-linecap="round"/>
<line x1="1808.1" y1="1130.0" x2="1837.9" y2="1130.0" stroke="#4f9a2e" stroke-width="2.4" stroke-linecap="round"/>
<line x1="1808.1" y1="1139.7" x2="1837.9" y2="1139.7" stroke="#4f9a2e" stroke-width="2.4" stroke-linecap="round"/>
<line x1="1808.1" y1="1149.3" x2="1837.9" y2="1149.3" stroke="#4f9a2e" stroke-width="2.4" stroke-linecap="round"/>
<line x1="1814.4" y1="1159.0" x2="1831.6" y2="1159.0" stroke="#4f9a2e" stroke-width="2.4" stroke-linecap="round"/>
<rect x="1796.6" y="1455.8" width="48.4" height="90.7" rx="24.200000000000045" fill="#c0151f"/>
<line x1="1812.1" y1="1467.8" x2="1829.5" y2="1467.8" stroke="#9a0f18" stroke-width="2.4" stroke-linecap="round"/>
<line x1="1805.8" y1="1477.3" x2="1835.8" y2="1477.3" stroke="#9a0f18" stroke-width="2.4" stroke-linecap="round"/>
<line x1="1805.8" y1="1486.9" x2="1835.8" y2="1486.9" stroke="#9a0f18" stroke-width="2.4" stroke-linecap="round"/>
<line x1="1805.8" y1="1496.4" x2="1835.8" y2="1496.4" stroke="#9a0f18" stroke-width="2.4" stroke-linecap="round"/>
<line x1="1805.8" y1="1505.9" x2="1835.8" y2="1505.9" stroke="#9a0f18" stroke-width="2.4" stroke-linecap="round"/>
<line x1="1805.8" y1="1515.4" x2="1835.8" y2="1515.4" stroke="#9a0f18" stroke-width="2.4" stroke-linecap="round"/>
<line x1="1805.8" y1="1525.0" x2="1835.8" y2="1525.0" stroke="#9a0f18" stroke-width="2.4" stroke-linecap="round"/>
<line x1="1812.1" y1="1534.5" x2="1829.5" y2="1534.5" stroke="#9a0f18" stroke-width="2.4" stroke-linecap="round"/>
<text x="1528.6" y="1196.0" font-size="29" textLength="42.7" lengthAdjust="spacingAndGlyphs" fill="#1b1b1f">YES</text>
<text x="1694.0" y="1196.0" font-size="29" textLength="49.6" lengthAdjust="spacingAndGlyphs" fill="#1b1b1f">very</text>
<text x="1847.0" y="1196.0" font-size="29" textLength="85.8" lengthAdjust="spacingAndGlyphs" fill="#1b1b1f">slightly</text>
<text x="2013.7" y="1196.0" font-size="29" textLength="98.9" lengthAdjust="spacingAndGlyphs" fill="#1b1b1f">not very</text>
<text x="2209.2" y="1196.0" font-size="29" textLength="39.3" lengthAdjust="spacingAndGlyphs" fill="#1b1b1f">NO</text>
<text x="1631.2" y="1287.2" font-size="29" textLength="522.6" lengthAdjust="spacingAndGlyphs" fill="#1b1b1f">As the answer to the question shifts while</text>
<text x="1628.6" y="1324.6" font-size="29" textLength="528.2" lengthAdjust="spacingAndGlyphs" fill="#1b1b1f">the rice is cooking, the response shifts too.</text>
<text x="1518.5" y="1569.5" font-size="29" textLength="71.1" lengthAdjust="spacingAndGlyphs" fill="#1b1b1f">100°C</text>
<text x="1521.9" y="1600.9" font-size="29" textLength="64.8" lengthAdjust="spacingAndGlyphs" fill="#1b1b1f">212°F</text>
<text x="1685.8" y="1569.5" font-size="29" textLength="61.2" lengthAdjust="spacingAndGlyphs" fill="#1b1b1f">95°C</text>
<text x="1683.7" y="1600.9" font-size="29" textLength="71.9" lengthAdjust="spacingAndGlyphs" fill="#1b1b1f">203°F</text>
<text x="1861.4" y="1565.3" font-size="29" textLength="60.6" lengthAdjust="spacingAndGlyphs" fill="#1b1b1f">90°C</text>
<text x="1857.0" y="1596.7" font-size="29" textLength="67.0" lengthAdjust="spacingAndGlyphs" fill="#1b1b1f">194°F</text>
<text x="2028.6" y="1569.5" font-size="29" textLength="59.8" lengthAdjust="spacingAndGlyphs" fill="#1b1b1f">85°C</text>
<text x="2026.5" y="1600.9" font-size="29" textLength="64.8" lengthAdjust="spacingAndGlyphs" fill="#1b1b1f">185°F</text>
<text x="2181.0" y="1569.5" font-size="29" textLength="60.0" lengthAdjust="spacingAndGlyphs" fill="#1b1b1f">80°C</text>
<text x="2178.3" y="1600.9" font-size="29" textLength="64.7" lengthAdjust="spacingAndGlyphs" fill="#1b1b1f">176°F</text>
<text x="1613.9" y="1687.8" font-size="29" textLength="558.1" lengthAdjust="spacingAndGlyphs" fill="#1b1b1f">The more questions, answers and responses</text>
<text x="1597.0" y="1724.2" font-size="29" textLength="591.3" lengthAdjust="spacingAndGlyphs" fill="#1b1b1f">the rice cooker has, the more precisely it works.</text>
<text x="1535.3" y="1809.0" font-size="29" textLength="751.3" lengthAdjust="spacingAndGlyphs" fill="#1b1b1f">Many household appliances now use fuzzy logic over binary.</text>
<text x="1511.0" y="1846.7" font-size="29" textLength="799.8" lengthAdjust="spacingAndGlyphs" fill="#1b1b1f">For example, a fuzzy logic vacuum cleaner automatically adjusts</text>
<text x="1564.5" y="1884.3" font-size="29" textLength="692.8" lengthAdjust="spacingAndGlyphs" fill="#1b1b1f">how hard it sucks depending on how much dirt there is.</text>
<line x1="1891.0" y1="1080.0" x2="1891.4" y2="1121.0" stroke="#1d1d1b" stroke-width="6.5" stroke-linecap="butt"/>
<line x1="1899.0" y1="1080.0" x2="1908.3" y2="1120.7" stroke="#1d1d1b" stroke-width="5" stroke-linecap="round"/>
<circle cx="1877.9" cy="1005.2" r="15.7" fill="#ead0ec"/>
<circle cx="1910.3" cy="1011.1" r="16.6" fill="#ead0ec"/>
<circle cx="1924.5" cy="1042.9" r="13.3" fill="#ead0ec"/>
<circle cx="1908.3" cy="1061.2" r="12.3" fill="#ead0ec"/>
<circle cx="1886.5" cy="1067.5" r="15.2" fill="#ead0ec"/>
<circle cx="1870.3" cy="1053.9" r="14.3" fill="#ead0ec"/>
<circle cx="1893.0" cy="1035.6" r="27.9" fill="#ead0ec"/>
<circle cx="1869.2" cy="1026.6" r="13.9" fill="#ead0ec"/>
<circle cx="1921.5" cy="1024.1" r="13.9" fill="#ead0ec"/>
<circle cx="1894.4" cy="1009.7" r="16.4" fill="#ead0ec"/>
<circle cx="1901.0" cy="1047.5" r="24.6" fill="#ead0ec"/>
<line x1="1897.8" y1="997.0" x2="1895.1" y2="991.2" stroke="#ecd4ec" stroke-width="1.7600000000000002" stroke-linecap="round"/>
<line x1="1901.0" y1="997.0" x2="1901.0" y2="990.6" stroke="#ecd4ec" stroke-width="1.7600000000000002" stroke-linecap="round"/>
<line x1="1904.2" y1="997.0" x2="1906.9" y2="991.2" stroke="#ecd4ec" stroke-width="1.7600000000000002" stroke-linecap="round"/>
<line x1="1871.0" y1="1001.0" x2="1871.6" y2="1007.4" stroke="#b48fbd" stroke-width="1.7600000000000002" stroke-linecap="round"/>
<line x1="1874.7" y1="1001.6" x2="1875.3" y2="1007.4" stroke="#b48fbd" stroke-width="1.7600000000000002" stroke-linecap="round"/>
<line x1="1878.4" y1="1001.0" x2="1879.0" y2="1008.6" stroke="#b48fbd" stroke-width="1.7600000000000002" stroke-linecap="round"/>
<line x1="1912.0" y1="1043.0" x2="1912.6" y2="1049.4" stroke="#b48fbd" stroke-width="1.7600000000000002" stroke-linecap="round"/>
<line x1="1915.7" y1="1043.6" x2="1916.3" y2="1049.4" stroke="#b48fbd" stroke-width="1.7600000000000002" stroke-linecap="round"/>
<line x1="1919.4" y1="1043.0" x2="1920.0" y2="1050.6" stroke="#b48fbd" stroke-width="1.7600000000000002" stroke-linecap="round"/>
<line x1="1868.0" y1="1056.0" x2="1868.6" y2="1062.4" stroke="#b48fbd" stroke-width="1.7600000000000002" stroke-linecap="round"/>
<line x1="1871.7" y1="1056.6" x2="1872.3" y2="1062.4" stroke="#b48fbd" stroke-width="1.7600000000000002" stroke-linecap="round"/>
<line x1="1875.4" y1="1056.0" x2="1876.0" y2="1063.6" stroke="#b48fbd" stroke-width="1.7600000000000002" stroke-linecap="round"/>
<path d="M1899,1044 Q1893,1086 1856,1090 Q1845,1090.5 1838,1085" fill="none" stroke="#1d1d1b" stroke-width="4.8" stroke-linecap="round" stroke-linejoin="round"/>
<path d="M1859,1066 Q1850,1078 1832,1080.5" fill="none" stroke="#1d1d1b" stroke-width="4.8" stroke-linecap="round" stroke-linejoin="round"/>
<line x1="1867.8" y1="1022.3" x2="1879.6" y2="1022.3" stroke="#1d1d1b" stroke-width="3.44" stroke-linecap="round"/>
<circle cx="1854.0" cy="1022.3" r="13.8" fill="#fff" stroke="#1d1d1b" stroke-width="4.3"/>
<circle cx="1893.4" cy="1022.3" r="13.8" fill="#fff" stroke="#1d1d1b" stroke-width="4.3"/>
<path d="M1907.2,1022.3 L1935.0,1019.5 Q1943.0,1019.5 1943.0,1027.5" fill="none" stroke="#1d1d1b" stroke-width="3.44" stroke-linecap="round" stroke-linejoin="round"/>
<line x1="1846.0" y1="1021.0" x2="1858.0" y2="1021.0" stroke="#1d1d1b" stroke-width="2.4" stroke-linecap="round"/>
<line x1="1852.0" y1="1021.0" x2="1852.0" y2="1026.0" stroke="#1d1d1b" stroke-width="2.6" stroke-linecap="round"/>
<line x1="1886.0" y1="1021.0" x2="1898.0" y2="1021.0" stroke="#1d1d1b" stroke-width="2.4" stroke-linecap="round"/>
<line x1="1892.0" y1="1021.0" x2="1892.0" y2="1026.0" stroke="#1d1d1b" stroke-width="2.6" stroke-linecap="round"/>
<path d="M1868.6,1036.5 H1876.4 Q1875.6,1043.2 1872.5,1043.2 Q1869.4,1043.2 1868.6,1036.5Z" fill="#1d1d1b"/>
<ellipse cx="1898.0" cy="1047.0" rx="5.0" ry="2.0" fill="#b98ac2" transform="rotate(-10 1898.0 1047.0)"/>
<path d="M1753.8,1495 L1760.9,1469 M1748,1456.5 Q1750,1467 1761,1470 M1777.8,1457 Q1774,1467 1761,1470" fill="none" stroke="#1d1d1b" stroke-width="5" stroke-linecap="round" stroke-linejoin="round"/>
<circle cx="1785.5" cy="1379.0" r="16.0" fill="#ead0ec"/>
<circle cx="1752.3" cy="1385.0" r="17.1" fill="#ead0ec"/>
<circle cx="1737.7" cy="1417.9" r="13.6" fill="#ead0ec"/>
<circle cx="1754.3" cy="1436.8" r="12.6" fill="#ead0ec"/>
<circle cx="1776.7" cy="1443.3" r="15.5" fill="#ead0ec"/>
<circle cx="1793.2" cy="1429.3" r="14.6" fill="#ead0ec"/>
<circle cx="1769.9" cy="1410.4" r="28.6" fill="#ead0ec"/>
<circle cx="1794.4" cy="1401.1" r="14.3" fill="#ead0ec"/>
<circle cx="1740.8" cy="1398.5" r="14.3" fill="#ead0ec"/>
<circle cx="1768.5" cy="1383.6" r="16.8" fill="#ead0ec"/>
<circle cx="1761.8" cy="1422.7" r="25.2" fill="#ead0ec"/>
<line x1="1757.8" y1="1370.0" x2="1755.1" y2="1364.2" stroke="#ecd4ec" stroke-width="1.7600000000000002" stroke-linecap="round"/>
<line x1="1761.0" y1="1370.0" x2="1761.0" y2="1363.6" stroke="#ecd4ec" stroke-width="1.7600000000000002" stroke-linecap="round"/>
<line x1="1764.2" y1="1370.0" x2="1766.9" y2="1364.2" stroke="#ecd4ec" stroke-width="1.7600000000000002" stroke-linecap="round"/>
<line x1="1783.0" y1="1373.0" x2="1783.6" y2="1379.4" stroke="#b48fbd" stroke-width="1.7600000000000002" stroke-linecap="round"/>
<line x1="1786.7" y1="1373.6" x2="1787.3" y2="1379.4" stroke="#b48fbd" stroke-width="1.7600000000000002" stroke-linecap="round"/>
<line x1="1790.4" y1="1373.0" x2="1791.0" y2="1380.6" stroke="#b48fbd" stroke-width="1.7600000000000002" stroke-linecap="round"/>
<line x1="1741.0" y1="1418.0" x2="1741.6" y2="1424.4" stroke="#b48fbd" stroke-width="1.7600000000000002" stroke-linecap="round"/>
<line x1="1744.7" y1="1418.6" x2="1745.3" y2="1424.4" stroke="#b48fbd" stroke-width="1.7600000000000002" stroke-linecap="round"/>
<line x1="1748.4" y1="1418.0" x2="1749.0" y2="1425.6" stroke="#b48fbd" stroke-width="1.7600000000000002" stroke-linecap="round"/>
<line x1="1787.0" y1="1424.0" x2="1787.6" y2="1430.4" stroke="#b48fbd" stroke-width="1.7600000000000002" stroke-linecap="round"/>
<line x1="1790.7" y1="1424.6" x2="1791.3" y2="1430.4" stroke="#b48fbd" stroke-width="1.7600000000000002" stroke-linecap="round"/>
<line x1="1794.4" y1="1424.0" x2="1795.0" y2="1431.6" stroke="#b48fbd" stroke-width="1.7600000000000002" stroke-linecap="round"/>
<path d="M1765,1424.5 Q1785,1419 1805,1422 Q1842,1432 1846,1468" fill="none" stroke="#1d1d1b" stroke-width="5" stroke-linecap="round" stroke-linejoin="round"/>
<path d="M1805,1436 Q1822,1440 1824.5,1455" fill="none" stroke="#1d1d1b" stroke-width="5" stroke-linecap="round" stroke-linejoin="round"/>
<line x1="1785.1" y1="1395.6" x2="1795.1" y2="1395.6" stroke="#1d1d1b" stroke-width="3.44" stroke-linecap="round"/>
<circle cx="1771.3" cy="1395.6" r="13.8" fill="#fff" stroke="#1d1d1b" stroke-width="4.3"/>
<circle cx="1808.9" cy="1395.6" r="13.8" fill="#fff" stroke="#1d1d1b" stroke-width="4.3"/>
<path d="M1757.5,1395.6 L1726.8,1392.0 Q1718.8,1392.0 1718.8,1400.0" fill="none" stroke="#1d1d1b" stroke-width="3.44" stroke-linecap="round" stroke-linejoin="round"/>
<circle cx="1773.9" cy="1399.2" r="3.9" fill="#1d1d1b"/>
<circle cx="1808.2" cy="1399.5" r="3.9" fill="#1d1d1b"/>
<path d="M1786.5,1408.5 Q1790.3,1413 1794,1408.5" fill="none" stroke="#1d1d1b" stroke-width="2.2" stroke-linecap="round" stroke-linejoin="round"/>
<rect x="1796.6" y="1455.8" width="48.4" height="90.7" rx="24.200000000000045" fill="#c0151f"/>
<line x1="1812.1" y1="1467.8" x2="1829.5" y2="1467.8" stroke="#9a0f18" stroke-width="2.4" stroke-linecap="round"/>
<line x1="1805.8" y1="1477.3" x2="1835.8" y2="1477.3" stroke="#9a0f18" stroke-width="2.4" stroke-linecap="round"/>
<line x1="1805.8" y1="1486.9" x2="1835.8" y2="1486.9" stroke="#9a0f18" stroke-width="2.4" stroke-linecap="round"/>
<line x1="1805.8" y1="1496.4" x2="1835.8" y2="1496.4" stroke="#9a0f18" stroke-width="2.4" stroke-linecap="round"/>
<line x1="1805.8" y1="1505.9" x2="1835.8" y2="1505.9" stroke="#9a0f18" stroke-width="2.4" stroke-linecap="round"/>
<line x1="1805.8" y1="1515.4" x2="1835.8" y2="1515.4" stroke="#9a0f18" stroke-width="2.4" stroke-linecap="round"/>
<line x1="1805.8" y1="1525.0" x2="1835.8" y2="1525.0" stroke="#9a0f18" stroke-width="2.4" stroke-linecap="round"/>
<line x1="1812.1" y1="1534.5" x2="1829.5" y2="1534.5" stroke="#9a0f18" stroke-width="2.4" stroke-linecap="round"/>
<rect x="2528.0" y="1928.0" width="63.6" height="11.0" rx="5.5" fill="#5878b6"/>
<line x1="2553.9" y1="1876.0" x2="2553.9" y2="1933.6" stroke="#1d1d1b" stroke-width="5.5" stroke-linecap="round"/>
<line x1="2569.5" y1="1876.0" x2="2569.5" y2="1933.6" stroke="#1d1d1b" stroke-width="5.5" stroke-linecap="round"/>
<line x1="2534.2" y1="1738.0" x2="2534.2" y2="1775.0" stroke="#1d1d1b" stroke-width="5.5" stroke-linecap="round"/>
<ellipse cx="2501.9" cy="1632.2" rx="16.7" ry="13.3" fill="#fff"/>
<ellipse cx="2528.6" cy="1626.9" rx="21.1" ry="16.9" fill="#fff"/>
<ellipse cx="2560.6" cy="1625.1" rx="22.2" ry="17.8" fill="#fff"/>
<ellipse cx="2592.7" cy="1626.9" rx="21.1" ry="16.9" fill="#fff"/>
<ellipse cx="2621.1" cy="1632.2" rx="16.7" ry="13.3" fill="#fff"/>
<ellipse cx="2560.6" cy="1634.9" rx="26.7" ry="21.3" fill="#fff"/>
<ellipse cx="2619.1" cy="1615.9" rx="4.2" ry="1.3" fill="#fbeebc" transform="rotate(-44 2619.1 1615.9)"/>
<ellipse cx="2507.5" cy="1617.3" rx="4.2" ry="1.3" fill="#fbeebc" transform="rotate(24 2507.5 1617.3)"/>
<ellipse cx="2582.4" cy="1624.3" rx="4.2" ry="1.3" fill="#fbeebc" transform="rotate(11 2582.4 1624.3)"/>
<ellipse cx="2574.3" cy="1620.7" rx="4.2" ry="1.3" fill="#fbeebc" transform="rotate(-34 2574.3 1620.7)"/>
<ellipse cx="2551.8" cy="1623.1" rx="4.2" ry="1.3" fill="#fbeebc" transform="rotate(22 2551.8 1623.1)"/>
<ellipse cx="2624.0" cy="1615.8" rx="4.2" ry="1.3" fill="#fbeebc" transform="rotate(4 2624.0 1615.8)"/>
<ellipse cx="2553.6" cy="1624.8" rx="4.2" ry="1.3" fill="#fbeebc" transform="rotate(-46 2553.6 1624.8)"/>
<ellipse cx="2500.1" cy="1622.2" rx="4.2" ry="1.3" fill="#fbeebc" transform="rotate(-18 2500.1 1622.2)"/>
<ellipse cx="2545.3" cy="1616.6" rx="4.2" ry="1.3" fill="#fbeebc" transform="rotate(3 2545.3 1616.6)"/>
<ellipse cx="2568.4" cy="1625.2" rx="4.2" ry="1.3" fill="#fbeebc" transform="rotate(-48 2568.4 1625.2)"/>
<ellipse cx="2538.3" cy="1626.5" rx="4.2" ry="1.3" fill="#fbeebc" transform="rotate(1 2538.3 1626.5)"/>
<ellipse cx="2624.5" cy="1619.4" rx="4.2" ry="1.3" fill="#fbeebc" transform="rotate(-32 2624.5 1619.4)"/>
<ellipse cx="2611.1" cy="1617.8" rx="4.2" ry="1.3" fill="#fbeebc" transform="rotate(23 2611.1 1617.8)"/>
<ellipse cx="2612.7" cy="1618.3" rx="4.2" ry="1.3" fill="#fbeebc" transform="rotate(29 2612.7 1618.3)"/>
<clipPath id="bw2"><path d="M2471.7,1630.3 H2649.6 C2649.6,1701.4 2606.9,1745.0 2560.6,1745.0 C2514.4,1745.0 2471.7,1701.4 2471.7,1630.3Z"/></clipPath>
<g clip-path="url(#bw2)">
<rect x="2471.7" y="1630.3" width="177.9" height="114.7" rx="0" fill="#8ed0e6"/>
<rect x="2471.7" y="1630.3" width="177.9" height="10.3" rx="0" fill="#8ed0e6"/>
<rect x="2471.7" y="1640.6" width="177.9" height="41.3" rx="0" fill="#fff"/>
<rect x="2471.7" y="1641.8" width="177.9" height="6.3" rx="0" fill="#f7d768"/>
<rect x="2471.7" y="1684.2" width="177.9" height="6.3" rx="0" fill="#f7d768"/>
<ellipse cx="2496.6" cy="1658.4" rx="1.7" ry="5.2" fill="#f7c948"/>
<ellipse cx="2496.6" cy="1671.0" rx="1.7" ry="5.2" fill="#f7c948"/>
<ellipse cx="2488.6" cy="1664.7" rx="5.9" ry="1.7" fill="#f7c948"/>
<ellipse cx="2504.6" cy="1664.7" rx="5.9" ry="1.7" fill="#f7c948"/>
<ellipse cx="2539.3" cy="1658.4" rx="1.7" ry="5.2" fill="#f7c948"/>
<ellipse cx="2539.3" cy="1671.0" rx="1.7" ry="5.2" fill="#f7c948"/>
<ellipse cx="2531.3" cy="1664.7" rx="5.9" ry="1.7" fill="#f7c948"/>
<ellipse cx="2547.3" cy="1664.7" rx="5.9" ry="1.7" fill="#f7c948"/>
<ellipse cx="2582.0" cy="1658.4" rx="1.7" ry="5.2" fill="#f7c948"/>
<ellipse cx="2582.0" cy="1671.0" rx="1.7" ry="5.2" fill="#f7c948"/>
<ellipse cx="2574.0" cy="1664.7" rx="5.9" ry="1.7" fill="#f7c948"/>
<ellipse cx="2590.0" cy="1664.7" rx="5.9" ry="1.7" fill="#f7c948"/>
<ellipse cx="2624.7" cy="1658.4" rx="1.7" ry="5.2" fill="#f7c948"/>
<ellipse cx="2624.7" cy="1671.0" rx="1.7" ry="5.2" fill="#f7c948"/>
<ellipse cx="2616.7" cy="1664.7" rx="5.9" ry="1.7" fill="#f7c948"/>
<ellipse cx="2632.7" cy="1664.7" rx="5.9" ry="1.7" fill="#f7c948"/>
</g>
<circle cx="2549.1" cy="1781.8" r="20.6" fill="#dcb8dd"/>
<circle cx="2591.8" cy="1789.6" r="21.9" fill="#dcb8dd"/>
<circle cx="2610.6" cy="1832.1" r="17.5" fill="#dcb8dd"/>
<circle cx="2589.2" cy="1856.4" r="16.2" fill="#dcb8dd"/>
<circle cx="2560.5" cy="1864.8" r="20.0" fill="#dcb8dd"/>
<circle cx="2539.2" cy="1846.7" r="18.8" fill="#dcb8dd"/>
<circle cx="2569.1" cy="1822.4" r="36.7" fill="#dcb8dd"/>
<circle cx="2537.7" cy="1810.4" r="18.4" fill="#dcb8dd"/>
<circle cx="2606.6" cy="1807.0" r="18.4" fill="#dcb8dd"/>
<circle cx="2571.0" cy="1787.8" r="21.6" fill="#dcb8dd"/>
<circle cx="2579.6" cy="1838.2" r="32.4" fill="#dcb8dd"/>
<line x1="2575.0" y1="1769.0" x2="2571.6" y2="1761.7" stroke="#ecd4ec" stroke-width="2.2" stroke-linecap="round"/>
<line x1="2579.0" y1="1769.0" x2="2579.0" y2="1761.0" stroke="#ecd4ec" stroke-width="2.2" stroke-linecap="round"/>
<line x1="2583.0" y1="1769.0" x2="2586.4" y2="1761.7" stroke="#ecd4ec" stroke-width="2.2" stroke-linecap="round"/>
<line x1="2541.0" y1="1775.0" x2="2541.8" y2="1783.0" stroke="#b48fbd" stroke-width="2.2" stroke-linecap="round"/>
<line x1="2545.6" y1="1775.8" x2="2546.4" y2="1783.0" stroke="#b48fbd" stroke-width="2.2" stroke-linecap="round"/>
<line x1="2550.2" y1="1775.0" x2="2551.0" y2="1784.5" stroke="#b48fbd" stroke-width="2.2" stroke-linecap="round"/>
<line x1="2577.0" y1="1835.0" x2="2577.8" y2="1843.0" stroke="#b48fbd" stroke-width="2.2" stroke-linecap="round"/>
<line x1="2581.6" y1="1835.8" x2="2582.4" y2="1843.0" stroke="#b48fbd" stroke-width="2.2" stroke-linecap="round"/>
<line x1="2586.2" y1="1835.0" x2="2587.0" y2="1844.5" stroke="#b48fbd" stroke-width="2.2" stroke-linecap="round"/>
<line x1="2545.0" y1="1851.0" x2="2545.8" y2="1859.0" stroke="#b48fbd" stroke-width="2.2" stroke-linecap="round"/>
<line x1="2549.6" y1="1851.8" x2="2550.4" y2="1859.0" stroke="#b48fbd" stroke-width="2.2" stroke-linecap="round"/>
<line x1="2554.2" y1="1851.0" x2="2555.0" y2="1860.5" stroke="#b48fbd" stroke-width="2.2" stroke-linecap="round"/>
<line x1="2536.9" y1="1802.9" x2="2546.6" y2="1802.9" stroke="#1d1d1b" stroke-width="4.16" stroke-linecap="round"/>
<circle cx="2517.5" cy="1802.9" r="19.4" fill="#fff" stroke="#1d1d1b" stroke-width="5.2"/>
<circle cx="2566.0" cy="1802.9" r="19.4" fill="#fff" stroke="#1d1d1b" stroke-width="5.2"/>
<path d="M2585.4,1802.9 L2627.0,1799.5 Q2635.0,1799.5 2635.0,1807.5" fill="none" stroke="#1d1d1b" stroke-width="4.16" stroke-linecap="round" stroke-linejoin="round"/>
<path d="M2511.5,1806 Q2517.5,1796 2523.5,1806" fill="none" stroke="#1d1d1b" stroke-width="2.8" stroke-linecap="round" stroke-linejoin="round"/>
<path d="M2560,1806 Q2566,1796 2572,1806" fill="none" stroke="#1d1d1b" stroke-width="2.8" stroke-linecap="round" stroke-linejoin="round"/>
<path d="M2530,1828 Q2539,1826 2548,1828 Q2547,1841 2539,1841 Q2531,1840 2530,1828Z" fill="#1d1d1b"/>
<line x1="2599.7" y1="1731.0" x2="2599.7" y2="1820.0" stroke="#1d1d1b" stroke-width="5.5" stroke-linecap="round"/>
<ellipse cx="2603.0" cy="1822.0" rx="6.0" ry="2.6" fill="#b98ac2" transform="rotate(-10 2603.0 1822.0)"/>
<circle cx="2717.8" cy="1895.3" r="29.5" fill="#fff" stroke="#fdf0c0" stroke-width="4"/>
<text x="2700.3" y="1906.5" font-size="29" font-weight="bold" textLength="35.0" lengthAdjust="spacingAndGlyphs" fill="#14141c">35</text>
</svg></body></html>
